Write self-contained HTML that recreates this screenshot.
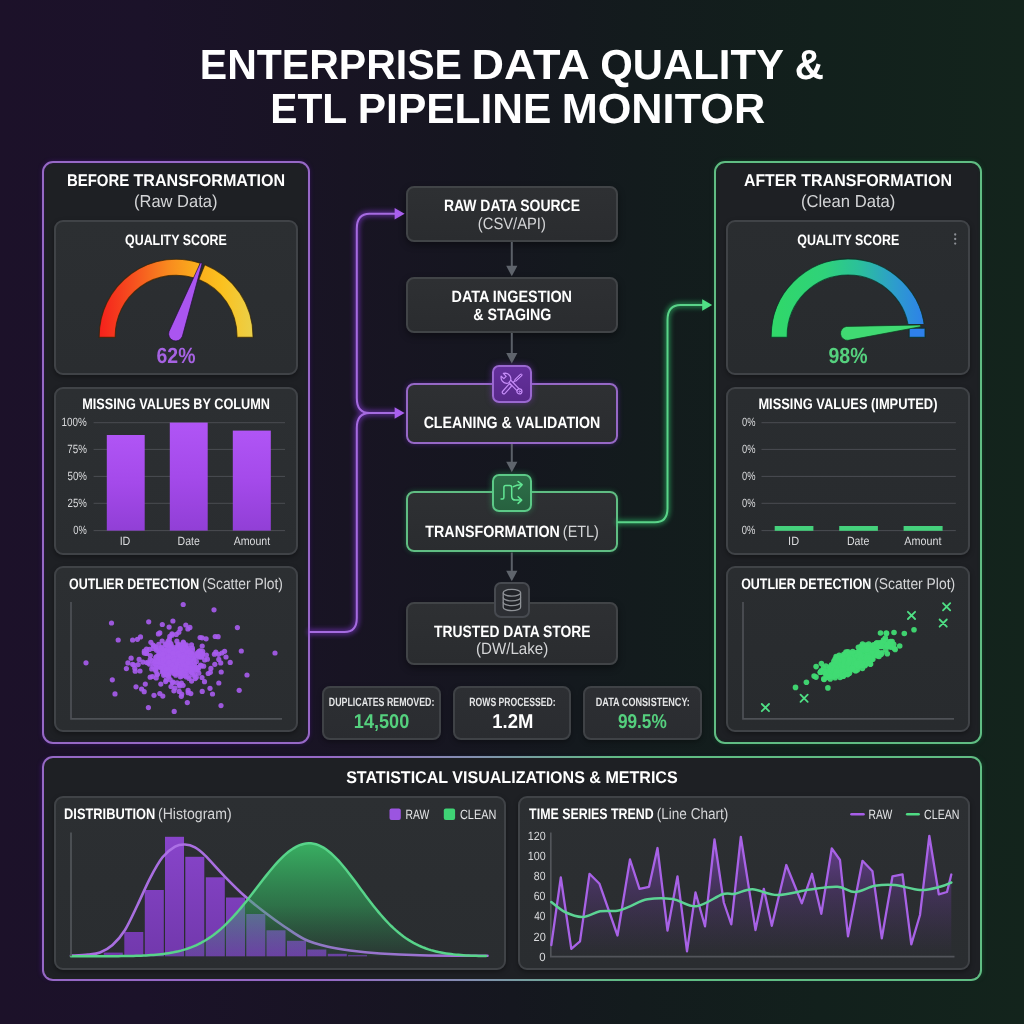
<!DOCTYPE html>
<html lang="en">
<head>
<meta charset="utf-8">
<title>Enterprise Data Quality &amp; ETL Pipeline Monitor</title>
<meta name="viewport" content="width=1024">
<style>
*{box-sizing:border-box;margin:0;padding:0}
html,body{width:1024px;height:1024px;overflow:hidden;background:#15161e}
body{font-family:"Liberation Sans",Arial,sans-serif;-webkit-font-smoothing:antialiased}
#app{position:relative;width:1024px;height:1024px;overflow:hidden;
 background:linear-gradient(90deg,#1c1129 0%,#1b1229 14%,#181423 34%,#15171f 50%,#131b1d 62%,#12201c 80%,#13241c 100%)}
.ov{position:absolute;left:0;top:0;pointer-events:none}
.labels{position:absolute;left:0;top:0;width:0;height:0}
.t{text-rendering:geometricPrecision;position:absolute;left:0;top:0;white-space:nowrap;line-height:1;font-weight:700;transform-origin:0 0;display:block}
.panel{position:absolute;border:2px solid #a164dc;border-radius:11px;background:#1e2024}
.panel.p{border-color:#9668c6;box-shadow:0 0 4px rgba(80,20,150,.45),inset 0 0 3px rgba(60,15,110,.4)}
.panel.g{border-color:#60bd83;box-shadow:0 0 4px rgba(15,90,45,.5),inset 0 0 3px rgba(8,60,30,.4)}
.panel.pg{border:0;background:linear-gradient(90deg,#9668c6 0%,#9668c6 30%,#8390b0 46%,#60bd83 62%,#60bd83 100%);padding:2px;
 box-shadow:-3px 0 4px -2px rgba(80,20,150,.45),3px 0 4px -2px rgba(15,90,45,.5)}
.panel.pg>.in{width:100%;height:100%;border-radius:9px;background:#1e2024}
.card{position:absolute;border:2px solid #404347;border-radius:9px;
 background:linear-gradient(180deg,#2c2f32 0%,#2a2d30 100%);box-shadow:0 2px 5px rgba(0,0,0,.35)}
.node{position:absolute;border:2px solid #414447;border-radius:8px;background:linear-gradient(180deg,#2e3033 0%,#2a2c2f 100%);box-shadow:0 3px 7px rgba(0,0,0,.4)}
.node.p{border:2px solid #9668c6;box-shadow:0 0 5px rgba(110,40,200,.45)}
.node.g{border:2px solid #60bd83;box-shadow:0 0 5px rgba(40,170,90,.4)}
.ico{position:absolute;border-radius:7px}
.ico.p{border:2px solid #9a68d0;background:linear-gradient(180deg,#64309c,#58298a);box-shadow:0 0 6px rgba(140,60,220,.5)}
.ico.g{border:2px solid #5cc987;background:linear-gradient(180deg,#2d6f49,#27613f);box-shadow:0 0 6px rgba(50,200,110,.45)}
.ico.n{border:2px solid #474a50;background:#2d2f34}
.stat{position:absolute;border:2px solid #3f4246;border-radius:8px;background:linear-gradient(180deg,#2d2f33,#2a2c30);box-shadow:0 2px 5px rgba(0,0,0,.35)}
.card.r{background:linear-gradient(180deg,#2a2d30 0%,#282b2e 100%)}

</style>
</head>
<body>
<main id="app">
<div class="panel p" style="left:41.80px;top:160.70px;width:268.30px;height:583.50px"></div>
<div class="panel g" style="left:713.80px;top:160.70px;width:268.70px;height:583.50px"></div>
<div class="panel pg" style="left:41.80px;top:756.20px;width:940.70px;height:225.20px"><div class="in"></div></div>
<div class="card" style="left:54.20px;top:220.00px;width:243.50px;height:155.40px"></div>
<div class="card r" style="left:726.20px;top:220.00px;width:243.60px;height:155.40px"></div>
<div class="card" style="left:54.20px;top:386.50px;width:243.50px;height:168.90px"></div>
<div class="card r" style="left:726.20px;top:386.50px;width:243.60px;height:168.90px"></div>
<div class="card" style="left:54.20px;top:566.00px;width:243.50px;height:166.40px"></div>
<div class="card r" style="left:726.20px;top:566.00px;width:243.60px;height:166.40px"></div>
<div class="card" style="left:54.20px;top:796.20px;width:451.50px;height:173.70px"></div>
<div class="card" style="left:518.00px;top:796.20px;width:451.80px;height:173.70px"></div>
<div class="node" style="left:406.40px;top:186.30px;width:211.20px;height:55.50px"></div>
<div class="node" style="left:406.40px;top:277.00px;width:211.20px;height:55.70px"></div>
<div class="node p" style="left:406.00px;top:382.70px;width:212.00px;height:61.10px"></div>
<div class="node g" style="left:406.00px;top:491.40px;width:212.00px;height:61.00px"></div>
<div class="node" style="left:406.40px;top:601.80px;width:211.20px;height:63.40px"></div>
<div class="ico p" style="left:492.40px;top:364.60px;width:39.50px;height:38.50px"></div>
<div class="ico g" style="left:492.40px;top:473.60px;width:39.50px;height:38.50px"></div>
<div class="ico n" style="left:494.00px;top:582.00px;width:36.00px;height:35.90px"></div>
<div class="stat" style="left:322.30px;top:685.80px;width:118.40px;height:54.70px"></div>
<div class="stat" style="left:452.80px;top:685.80px;width:118.40px;height:54.70px"></div>
<div class="stat" style="left:583.20px;top:685.80px;width:118.40px;height:54.70px"></div>
<svg class="ov" width="1024" height="1024" viewBox="0 0 1024 1024" aria-hidden="true">
<defs>
<filter id="glowP" x="-30%" y="-30%" width="160%" height="160%"><feGaussianBlur stdDeviation="2.6"/></filter>
<linearGradient id="gWarm" gradientUnits="userSpaceOnUse" x1="99" y1="0" x2="253" y2="0">
 <stop offset="0" stop-color="#f5201c"/><stop offset=".22" stop-color="#f6501f"/><stop offset=".45" stop-color="#f88a1f"/>
 <stop offset=".62" stop-color="#faab1c"/><stop offset=".80" stop-color="#fbc11f"/><stop offset="1" stop-color="#ead04a"/></linearGradient>
<linearGradient id="gCool" gradientUnits="userSpaceOnUse" x1="771" y1="0" x2="925" y2="0">
 <stop offset="0" stop-color="#30d868"/><stop offset=".35" stop-color="#2fd27a"/><stop offset=".58" stop-color="#2bbf9c"/>
 <stop offset=".80" stop-color="#2d9dcc"/><stop offset="1" stop-color="#2e80ea"/></linearGradient>
<clipPath id="cpCool"><path d="M760,250 H930 V324 H900 V345 H760 Z"/></clipPath>
<linearGradient id="gBar" x1="0" y1="0" x2="0" y2="1"><stop offset="0" stop-color="#b055f5"/><stop offset=".5" stop-color="#a44aea"/><stop offset="1" stop-color="#913fd6"/></linearGradient>
<linearGradient id="gHistG" gradientUnits="userSpaceOnUse" x1="0" y1="843" x2="0" y2="957">
 <stop offset="0" stop-color="#3ccf6e" stop-opacity=".80"/><stop offset=".55" stop-color="#31b560" stop-opacity=".50"/><stop offset="1" stop-color="#2a9452" stop-opacity=".10"/></linearGradient>
<linearGradient id="gHistP" gradientUnits="userSpaceOnUse" x1="0" y1="836" x2="0" y2="957">
 <stop offset="0" stop-color="#8e46d4"/><stop offset="1" stop-color="#7639b4"/></linearGradient>
<linearGradient id="gTS" gradientUnits="userSpaceOnUse" x1="0" y1="836" x2="0" y2="957">
 <stop offset="0" stop-color="#9a4fe0" stop-opacity=".58"/><stop offset=".45" stop-color="#8340c4" stop-opacity=".27"/><stop offset="1" stop-color="#6a30a0" stop-opacity="0"/></linearGradient>
</defs>
<g fill="none" stroke-linecap="round"><g filter="url(#glowP)" opacity=".6"><path d="M310,632 H344.5 Q356.8,632 356.8,618 V428 Q356.8,413 369.5,413 H396" stroke="#8a3be0" stroke-width="5"/><path d="M396,213.7 H369.5 Q356.8,213.7 356.8,228.7 V398 Q356.8,413 369.5,413" stroke="#8a3be0" stroke-width="5"/><path d="M618,522.2 H655 Q667.5,522.2 667.5,508.2 V320 Q667.5,305 680.5,305 H704" stroke="#2fc46c" stroke-width="5"/></g><path d="M310,632 H344.5 Q356.8,632 356.8,618 V428 Q356.8,413 369.5,413 H396" stroke="#a56be0" stroke-width="2"/><path d="M396,213.7 H369.5 Q356.8,213.7 356.8,228.7 V398 Q356.8,413 369.5,413" stroke="#a56be0" stroke-width="2"/><path d="M618,522.2 H655 Q667.5,522.2 667.5,508.2 V320 Q667.5,305 680.5,305 H704" stroke="#5ad389" stroke-width="2"/></g>
<path d="M394.6,207.9 L404.6,213.7 L394.6,219.5 Z" fill="#a95fee"/>
<path d="M394.6,407.2 L404.6,413 L394.6,418.8 Z" fill="#a95fee"/>
<path d="M702.2,299.2 L712.2,305 L702.2,310.8 Z" fill="#4fe085"/>
<path d="M511.8,242 V268.3" stroke="#5b6068" stroke-width="2" fill="none"/><path d="M506.2,265.8 H517.4 L511.8,276.3 Z" fill="#5f646c"/>
<path d="M511.8,333 V355.6" stroke="#5b6068" stroke-width="2" fill="none"/><path d="M506.2,353.1 H517.4 L511.8,363.6 Z" fill="#5f646c"/>
<path d="M511.8,444 V464.2" stroke="#5b6068" stroke-width="2" fill="none"/><path d="M506.2,461.7 H517.4 L511.8,472.2 Z" fill="#5f646c"/>
<path d="M511.8,552.5 V573.3" stroke="#5b6068" stroke-width="2" fill="none"/><path d="M506.2,570.8 H517.4 L511.8,581.3 Z" fill="#5f646c"/>
<g stroke="#33240a" stroke-opacity=".75" stroke-width="1.1"><path d="M99.20,337.40 L99.20,336.10 A76.9,76.9 0 0 1 200.37,263.13 L195.32,278.31 A60.9,60.9 0 0 0 115.20,336.10 L115.20,337.40 Z" fill="url(#gWarm)"/><path d="M204.78,264.75 A76.9,76.9 0 0 1 253.00,336.10 L253.00,337.40 L237.00,337.40 L237.00,336.10 A60.9,60.9 0 0 0 198.81,279.59 Z" fill="url(#gWarm)"/></g>
<path d="M182.38,336.31 L202.15,263.31 L200.45,262.69 L169.02,331.49 A7.1,7.1 0 0 0 182.38,336.31 Z" fill="#aa55f0" stroke="#241038" stroke-opacity=".7" stroke-width="1"/>
<g stroke="#0a3024" stroke-opacity=".75" stroke-width="1.1"><path d="M771.20,337.40 L771.20,336.10 A76.9,76.9 0 0 1 925.00,335.43 L909.00,335.57 A60.9,60.9 0 0 0 787.20,336.10 L787.20,337.40 Z" fill="url(#gCool)" clip-path="url(#cpCool)"/><path d="M909.2,328.3 H925 V337.4 H909.2 Z" fill="#2e80ea"/></g>
<path d="M848.02,340.36 L920.69,326.70 L920.51,324.90 L846.58,326.44 A7.0,7.0 0 0 0 848.02,340.36 Z" fill="#40da72" stroke="#0c3a20" stroke-opacity=".7" stroke-width="1"/>
<circle cx="955.2" cy="234.5" r="1.15" fill="#8d9096"/>
<circle cx="955.2" cy="239.0" r="1.15" fill="#8d9096"/>
<circle cx="955.2" cy="243.6" r="1.15" fill="#8d9096"/>
<path d="M93.6,422.7 H285" stroke="#4a4d52" stroke-width="1" fill="none"/>
<path d="M761.5,422.7 H955.8" stroke="#4a4d52" stroke-width="1" fill="none"/>
<path d="M93.6,449.4 H285" stroke="#4a4d52" stroke-width="1" fill="none"/>
<path d="M761.5,449.4 H955.8" stroke="#4a4d52" stroke-width="1" fill="none"/>
<path d="M93.6,476.4 H285" stroke="#4a4d52" stroke-width="1" fill="none"/>
<path d="M761.5,476.4 H955.8" stroke="#4a4d52" stroke-width="1" fill="none"/>
<path d="M93.6,503.3 H285" stroke="#4a4d52" stroke-width="1" fill="none"/>
<path d="M761.5,503.3 H955.8" stroke="#4a4d52" stroke-width="1" fill="none"/>
<path d="M93.6,530.6 H285" stroke="#4a4d52" stroke-width="1" fill="none"/>
<path d="M761.5,530.6 H955.8" stroke="#4a4d52" stroke-width="1" fill="none"/>
<rect x="106.8" y="435.0" width="37.9" height="95.6" fill="url(#gBar)"/>
<rect x="169.8" y="422.6" width="37.9" height="108.0" fill="url(#gBar)"/>
<rect x="232.8" y="430.6" width="38.0" height="100.0" fill="url(#gBar)"/>
<rect x="774.7" y="526.0" width="38.7" height="4.8" fill="#45d17c"/>
<rect x="839.2" y="526.0" width="38.7" height="4.8" fill="#45d17c"/>
<rect x="903.6" y="526.0" width="39.0" height="4.8" fill="#45d17c"/>
<path d="M71,602 V718.8 H282" stroke="#4e5156" stroke-width="1.7" fill="none"/>
<path d="M743,602 V718.8 H954" stroke="#4e5156" stroke-width="1.7" fill="none"/>
<g fill="#a95cf0" fill-opacity=".9"><circle cx="167.9" cy="644.4" r="2.6"/><circle cx="138.2" cy="664.6" r="2.6"/><circle cx="183.4" cy="642.8" r="2.6"/><circle cx="131.1" cy="658.2" r="2.6"/><circle cx="179.7" cy="686.0" r="2.6"/><circle cx="162.2" cy="672.1" r="2.6"/><circle cx="210.3" cy="672.3" r="2.6"/><circle cx="181.7" cy="694.0" r="2.6"/><circle cx="201.4" cy="665.8" r="2.6"/><circle cx="172.9" cy="621.0" r="2.6"/><circle cx="140.5" cy="636.9" r="2.6"/><circle cx="166.5" cy="674.7" r="2.6"/><circle cx="202.0" cy="677.5" r="2.6"/><circle cx="141.6" cy="689.0" r="2.6"/><circle cx="186.4" cy="644.8" r="2.6"/><circle cx="197.4" cy="653.4" r="2.6"/><circle cx="146.1" cy="653.1" r="2.6"/><circle cx="148.1" cy="662.8" r="2.6"/><circle cx="200.5" cy="665.0" r="2.6"/><circle cx="181.3" cy="696.3" r="2.6"/><circle cx="188.2" cy="692.7" r="2.6"/><circle cx="218.1" cy="636.7" r="2.6"/><circle cx="180.2" cy="628.7" r="2.6"/><circle cx="172.0" cy="633.8" r="2.6"/><circle cx="154.0" cy="663.3" r="2.6"/><circle cx="190.8" cy="693.6" r="2.6"/><circle cx="215.2" cy="636.5" r="2.6"/><circle cx="156.2" cy="677.9" r="2.6"/><circle cx="152.4" cy="676.5" r="2.6"/><circle cx="136.0" cy="686.8" r="2.6"/><circle cx="194.4" cy="669.5" r="2.6"/><circle cx="218.8" cy="659.4" r="2.6"/><circle cx="142.9" cy="662.1" r="2.6"/><circle cx="176.3" cy="634.4" r="2.6"/><circle cx="157.1" cy="649.0" r="2.6"/><circle cx="150.9" cy="642.3" r="2.6"/><circle cx="188.4" cy="676.5" r="2.6"/><circle cx="202.7" cy="651.3" r="2.6"/><circle cx="153.0" cy="648.5" r="2.6"/><circle cx="198.8" cy="673.2" r="2.6"/><circle cx="185.2" cy="645.9" r="2.6"/><circle cx="145.3" cy="684.1" r="2.6"/><circle cx="158.4" cy="633.9" r="2.6"/><circle cx="224.6" cy="651.3" r="2.6"/><circle cx="207.4" cy="659.2" r="2.6"/><circle cx="132.6" cy="640.0" r="2.6"/><circle cx="127.9" cy="662.9" r="2.6"/><circle cx="177.2" cy="682.8" r="2.6"/><circle cx="202.2" cy="691.4" r="2.6"/><circle cx="184.2" cy="645.6" r="2.6"/><circle cx="132.6" cy="664.3" r="2.6"/><circle cx="221.2" cy="672.0" r="2.6"/><circle cx="170.2" cy="679.7" r="2.6"/><circle cx="191.6" cy="681.1" r="2.6"/><circle cx="165.2" cy="674.6" r="2.6"/><circle cx="226.0" cy="657.0" r="2.6"/><circle cx="133.9" cy="665.0" r="2.6"/><circle cx="202.0" cy="655.9" r="2.6"/><circle cx="172.0" cy="635.2" r="2.6"/><circle cx="181.7" cy="676.1" r="2.6"/><circle cx="189.9" cy="627.4" r="2.6"/><circle cx="137.4" cy="639.3" r="2.6"/><circle cx="149.3" cy="649.4" r="2.6"/><circle cx="159.8" cy="693.6" r="2.6"/><circle cx="171.0" cy="686.5" r="2.6"/><circle cx="220.7" cy="662.9" r="2.6"/><circle cx="215.8" cy="652.2" r="2.6"/><circle cx="159.1" cy="652.1" r="2.6"/><circle cx="200.1" cy="637.5" r="2.6"/><circle cx="175.0" cy="688.1" r="2.6"/><circle cx="206.4" cy="655.0" r="2.6"/><circle cx="210.0" cy="688.3" r="2.6"/><circle cx="195.3" cy="670.0" r="2.6"/><circle cx="156.6" cy="665.9" r="2.6"/><circle cx="192.4" cy="648.0" r="2.6"/><circle cx="204.5" cy="681.7" r="2.6"/><circle cx="160.8" cy="684.1" r="2.6"/><circle cx="183.1" cy="685.3" r="2.6"/><circle cx="186.3" cy="677.0" r="2.6"/><circle cx="169.3" cy="639.4" r="2.6"/><circle cx="210.9" cy="668.4" r="2.6"/><circle cx="206.1" cy="638.8" r="2.6"/><circle cx="187.9" cy="629.0" r="2.6"/><circle cx="156.2" cy="664.3" r="2.6"/><circle cx="178.6" cy="644.7" r="2.6"/><circle cx="170.9" cy="643.5" r="2.6"/><circle cx="168.1" cy="642.5" r="2.6"/><circle cx="203.6" cy="666.2" r="2.6"/><circle cx="165.7" cy="681.6" r="2.6"/><circle cx="162.8" cy="696.1" r="2.6"/><circle cx="144.3" cy="653.1" r="2.6"/><circle cx="218.8" cy="683.0" r="2.6"/><circle cx="139.1" cy="659.4" r="2.6"/><circle cx="218.6" cy="654.3" r="2.6"/><circle cx="168.0" cy="641.3" r="2.6"/><circle cx="144.3" cy="651.2" r="2.6"/><circle cx="185.3" cy="646.0" r="2.6"/><circle cx="144.2" cy="691.7" r="2.6"/><circle cx="204.7" cy="659.9" r="2.6"/><circle cx="196.8" cy="668.5" r="2.6"/><circle cx="185.3" cy="645.9" r="2.6"/><circle cx="135.2" cy="671.2" r="2.6"/><circle cx="214.8" cy="664.3" r="2.6"/><circle cx="140.0" cy="671.0" r="2.6"/><circle cx="150.2" cy="677.2" r="2.6"/><circle cx="181.4" cy="683.2" r="2.6"/><circle cx="157.0" cy="667.2" r="2.6"/><circle cx="169.3" cy="642.4" r="2.6"/><circle cx="169.1" cy="627.1" r="2.6"/><circle cx="179.5" cy="684.7" r="2.6"/><circle cx="146.7" cy="662.6" r="2.6"/><circle cx="214.4" cy="654.2" r="2.6"/><circle cx="154.7" cy="662.9" r="2.6"/><circle cx="169.8" cy="636.4" r="2.6"/><circle cx="185.8" cy="625.0" r="2.6"/><circle cx="178.8" cy="632.3" r="2.6"/><circle cx="202.1" cy="637.8" r="2.6"/><circle cx="159.8" cy="632.9" r="2.6"/><circle cx="199.2" cy="651.2" r="2.6"/><circle cx="154.1" cy="646.1" r="2.6"/><circle cx="221.9" cy="653.0" r="2.6"/><circle cx="230.2" cy="662.4" r="2.6"/><circle cx="166.2" cy="679.9" r="2.6"/><circle cx="195.2" cy="678.6" r="2.6"/><circle cx="208.2" cy="673.5" r="2.6"/><circle cx="202.6" cy="653.7" r="2.6"/><circle cx="134.8" cy="668.3" r="2.6"/><circle cx="198.5" cy="656.2" r="2.6"/><circle cx="188.1" cy="690.4" r="2.6"/><circle cx="158.7" cy="644.4" r="2.6"/><circle cx="173.9" cy="690.8" r="2.6"/><circle cx="154.0" cy="695.3" r="2.6"/><circle cx="191.5" cy="644.8" r="2.6"/><circle cx="166.8" cy="644.9" r="2.6"/><circle cx="156.5" cy="650.2" r="2.6"/><circle cx="157.2" cy="674.5" r="2.6"/><circle cx="126.4" cy="668.6" r="2.6"/><circle cx="153.1" cy="645.0" r="2.6"/><circle cx="189.0" cy="678.5" r="2.6"/><circle cx="172.5" cy="682.8" r="2.6"/><circle cx="200.4" cy="656.4" r="2.6"/><circle cx="184.6" cy="646.1" r="2.6"/><circle cx="162.3" cy="624.5" r="2.6"/><circle cx="155.5" cy="660.7" r="2.6"/><circle cx="160.0" cy="650.9" r="2.6"/><circle cx="179.2" cy="691.4" r="2.6"/><circle cx="156.5" cy="656.5" r="2.6"/><circle cx="168.6" cy="676.2" r="2.6"/><circle cx="202.2" cy="646.1" r="2.6"/><circle cx="196.3" cy="677.2" r="2.6"/><circle cx="181.4" cy="647.9" r="2.6"/><circle cx="173.6" cy="660.4" r="2.6"/><circle cx="180.5" cy="667.6" r="2.6"/><circle cx="170.1" cy="659.2" r="2.6"/><circle cx="182.8" cy="647.7" r="2.6"/><circle cx="194.8" cy="654.0" r="2.6"/><circle cx="189.6" cy="661.8" r="2.6"/><circle cx="195.1" cy="668.3" r="2.6"/><circle cx="176.4" cy="648.7" r="2.6"/><circle cx="178.0" cy="663.1" r="2.6"/><circle cx="182.0" cy="651.8" r="2.6"/><circle cx="168.7" cy="655.2" r="2.6"/><circle cx="179.5" cy="654.6" r="2.6"/><circle cx="175.6" cy="667.5" r="2.6"/><circle cx="172.6" cy="670.5" r="2.6"/><circle cx="179.6" cy="659.0" r="2.6"/><circle cx="187.4" cy="664.4" r="2.6"/><circle cx="173.9" cy="656.6" r="2.6"/><circle cx="176.3" cy="663.3" r="2.6"/><circle cx="187.8" cy="662.7" r="2.6"/><circle cx="170.7" cy="651.3" r="2.6"/><circle cx="179.2" cy="663.6" r="2.6"/><circle cx="187.8" cy="657.0" r="2.6"/><circle cx="164.1" cy="666.8" r="2.6"/><circle cx="175.0" cy="652.1" r="2.6"/><circle cx="192.9" cy="667.2" r="2.6"/><circle cx="177.3" cy="662.8" r="2.6"/><circle cx="169.5" cy="667.9" r="2.6"/><circle cx="172.5" cy="657.6" r="2.6"/><circle cx="173.8" cy="652.7" r="2.6"/><circle cx="186.7" cy="672.8" r="2.6"/><circle cx="184.1" cy="646.1" r="2.6"/><circle cx="173.8" cy="656.2" r="2.6"/><circle cx="180.4" cy="645.5" r="2.6"/><circle cx="155.7" cy="657.5" r="2.6"/><circle cx="186.3" cy="659.5" r="2.6"/><circle cx="198.2" cy="654.8" r="2.6"/><circle cx="177.1" cy="659.8" r="2.6"/><circle cx="168.6" cy="668.8" r="2.6"/><circle cx="163.8" cy="653.3" r="2.6"/><circle cx="173.2" cy="657.4" r="2.6"/><circle cx="187.7" cy="657.0" r="2.6"/><circle cx="181.6" cy="657.5" r="2.6"/><circle cx="189.2" cy="660.7" r="2.6"/><circle cx="179.3" cy="649.1" r="2.6"/><circle cx="183.6" cy="656.2" r="2.6"/><circle cx="185.4" cy="664.5" r="2.6"/><circle cx="182.0" cy="668.9" r="2.6"/><circle cx="180.4" cy="654.5" r="2.6"/><circle cx="178.3" cy="662.0" r="2.6"/><circle cx="165.3" cy="665.2" r="2.6"/><circle cx="191.0" cy="662.6" r="2.6"/><circle cx="177.8" cy="664.1" r="2.6"/><circle cx="187.4" cy="657.0" r="2.6"/><circle cx="186.0" cy="655.5" r="2.6"/><circle cx="181.9" cy="664.5" r="2.6"/><circle cx="164.2" cy="665.5" r="2.6"/><circle cx="178.8" cy="648.9" r="2.6"/><circle cx="172.3" cy="656.3" r="2.6"/><circle cx="168.1" cy="663.8" r="2.6"/><circle cx="169.0" cy="661.2" r="2.6"/><circle cx="166.1" cy="658.9" r="2.6"/><circle cx="194.5" cy="663.8" r="2.6"/><circle cx="161.6" cy="654.1" r="2.6"/><circle cx="175.4" cy="649.2" r="2.6"/><circle cx="186.2" cy="660.5" r="2.6"/><circle cx="176.0" cy="661.2" r="2.6"/><circle cx="170.1" cy="652.6" r="2.6"/><circle cx="146.5" cy="649.2" r="2.6"/><circle cx="179.0" cy="665.7" r="2.6"/><circle cx="174.9" cy="647.7" r="2.6"/><circle cx="173.4" cy="661.1" r="2.6"/><circle cx="164.1" cy="670.6" r="2.6"/><circle cx="165.8" cy="660.8" r="2.6"/><circle cx="166.1" cy="667.3" r="2.6"/><circle cx="164.4" cy="654.4" r="2.6"/><circle cx="187.5" cy="651.8" r="2.6"/><circle cx="171.4" cy="664.7" r="2.6"/><circle cx="180.2" cy="648.3" r="2.6"/><circle cx="182.6" cy="658.7" r="2.6"/><circle cx="188.6" cy="648.4" r="2.6"/><circle cx="184.1" cy="663.7" r="2.6"/><circle cx="173.0" cy="657.8" r="2.6"/><circle cx="180.5" cy="655.9" r="2.6"/><circle cx="173.3" cy="655.3" r="2.6"/><circle cx="178.0" cy="665.6" r="2.6"/><circle cx="161.2" cy="661.0" r="2.6"/><circle cx="179.7" cy="671.5" r="2.6"/><circle cx="169.5" cy="669.8" r="2.6"/><circle cx="172.4" cy="664.3" r="2.6"/><circle cx="178.8" cy="662.7" r="2.6"/><circle cx="173.4" cy="653.8" r="2.6"/><circle cx="191.1" cy="671.2" r="2.6"/><circle cx="175.6" cy="659.6" r="2.6"/><circle cx="174.6" cy="651.2" r="2.6"/><circle cx="165.9" cy="663.7" r="2.6"/><circle cx="185.9" cy="659.2" r="2.6"/><circle cx="167.6" cy="653.1" r="2.6"/><circle cx="170.7" cy="665.8" r="2.6"/><circle cx="177.1" cy="650.6" r="2.6"/><circle cx="165.4" cy="663.1" r="2.6"/><circle cx="179.6" cy="673.3" r="2.6"/><circle cx="190.7" cy="662.1" r="2.6"/><circle cx="170.0" cy="662.2" r="2.6"/><circle cx="165.6" cy="655.9" r="2.6"/><circle cx="186.4" cy="665.1" r="2.6"/><circle cx="185.6" cy="671.9" r="2.6"/><circle cx="172.6" cy="666.5" r="2.6"/><circle cx="177.4" cy="663.0" r="2.6"/><circle cx="178.9" cy="664.6" r="2.6"/><circle cx="163.2" cy="651.0" r="2.6"/><circle cx="177.6" cy="664.2" r="2.6"/><circle cx="172.0" cy="660.0" r="2.6"/><circle cx="163.0" cy="667.6" r="2.6"/><circle cx="181.1" cy="671.5" r="2.6"/><circle cx="172.7" cy="660.1" r="2.6"/><circle cx="177.3" cy="670.5" r="2.6"/><circle cx="182.1" cy="663.6" r="2.6"/><circle cx="160.7" cy="654.6" r="2.6"/><circle cx="162.4" cy="659.4" r="2.6"/><circle cx="185.0" cy="661.1" r="2.6"/><circle cx="167.7" cy="675.3" r="2.6"/><circle cx="166.0" cy="670.6" r="2.6"/><circle cx="187.9" cy="662.6" r="2.6"/><circle cx="189.8" cy="653.0" r="2.6"/><circle cx="171.2" cy="658.6" r="2.6"/><circle cx="180.3" cy="659.5" r="2.6"/><circle cx="193.2" cy="658.1" r="2.6"/><circle cx="174.4" cy="652.1" r="2.6"/><circle cx="181.3" cy="666.4" r="2.6"/><circle cx="169.3" cy="651.8" r="2.6"/><circle cx="163.2" cy="669.1" r="2.6"/><circle cx="184.3" cy="662.8" r="2.6"/><circle cx="184.0" cy="664.2" r="2.6"/><circle cx="181.1" cy="649.2" r="2.6"/><circle cx="181.7" cy="665.8" r="2.6"/><circle cx="187.7" cy="667.7" r="2.6"/><circle cx="170.0" cy="662.6" r="2.6"/><circle cx="162.9" cy="671.0" r="2.6"/><circle cx="163.3" cy="665.8" r="2.6"/><circle cx="169.0" cy="654.9" r="2.6"/><circle cx="168.0" cy="658.4" r="2.6"/><circle cx="180.3" cy="668.8" r="2.6"/><circle cx="173.8" cy="666.9" r="2.6"/><circle cx="185.1" cy="675.5" r="2.6"/><circle cx="170.9" cy="663.0" r="2.6"/><circle cx="183.4" cy="661.8" r="2.6"/><circle cx="182.7" cy="656.0" r="2.6"/><circle cx="173.2" cy="656.3" r="2.6"/><circle cx="170.4" cy="654.4" r="2.6"/><circle cx="175.7" cy="652.0" r="2.6"/><circle cx="171.1" cy="664.9" r="2.6"/><circle cx="161.3" cy="653.2" r="2.6"/><circle cx="172.7" cy="653.1" r="2.6"/><circle cx="166.9" cy="674.2" r="2.6"/><circle cx="179.8" cy="657.5" r="2.6"/><circle cx="169.5" cy="649.6" r="2.6"/><circle cx="165.3" cy="644.2" r="2.6"/><circle cx="182.0" cy="657.1" r="2.6"/><circle cx="185.4" cy="660.7" r="2.6"/><circle cx="157.2" cy="674.3" r="2.6"/><circle cx="181.6" cy="667.1" r="2.6"/><circle cx="171.2" cy="656.7" r="2.6"/><circle cx="174.8" cy="673.5" r="2.6"/><circle cx="164.4" cy="653.1" r="2.6"/><circle cx="181.6" cy="646.7" r="2.6"/><circle cx="191.0" cy="652.5" r="2.6"/><circle cx="188.1" cy="659.7" r="2.6"/><circle cx="173.2" cy="652.5" r="2.6"/><circle cx="190.7" cy="658.8" r="2.6"/><circle cx="163.6" cy="665.3" r="2.6"/><circle cx="175.3" cy="664.4" r="2.6"/><circle cx="172.7" cy="663.4" r="2.6"/><circle cx="181.0" cy="660.9" r="2.6"/><circle cx="160.7" cy="664.3" r="2.6"/><circle cx="190.0" cy="663.9" r="2.6"/><circle cx="185.7" cy="666.3" r="2.6"/><circle cx="173.7" cy="668.3" r="2.6"/><circle cx="174.3" cy="653.6" r="2.6"/><circle cx="164.4" cy="668.1" r="2.6"/><circle cx="183.5" cy="665.2" r="2.6"/><circle cx="171.2" cy="647.8" r="2.6"/><circle cx="184.2" cy="660.1" r="2.6"/><circle cx="170.7" cy="656.4" r="2.6"/><circle cx="171.0" cy="647.5" r="2.6"/><circle cx="182.7" cy="665.8" r="2.6"/><circle cx="185.1" cy="658.2" r="2.6"/><circle cx="164.5" cy="651.0" r="2.6"/><circle cx="173.6" cy="673.2" r="2.6"/><circle cx="185.6" cy="660.9" r="2.6"/><circle cx="181.2" cy="666.5" r="2.6"/><circle cx="177.2" cy="662.4" r="2.6"/><circle cx="178.7" cy="656.6" r="2.6"/><circle cx="165.5" cy="656.7" r="2.6"/><circle cx="187.8" cy="649.5" r="2.6"/><circle cx="172.4" cy="657.8" r="2.6"/><circle cx="177.0" cy="657.5" r="2.6"/><circle cx="184.3" cy="658.1" r="2.6"/><circle cx="176.6" cy="665.8" r="2.6"/><circle cx="162.9" cy="668.5" r="2.6"/><circle cx="186.6" cy="651.4" r="2.6"/><circle cx="175.7" cy="655.5" r="2.6"/><circle cx="173.1" cy="666.3" r="2.6"/><circle cx="158.5" cy="666.8" r="2.6"/><circle cx="180.8" cy="660.7" r="2.6"/><circle cx="198.1" cy="657.2" r="2.6"/><circle cx="162.1" cy="663.5" r="2.6"/><circle cx="178.1" cy="656.3" r="2.6"/><circle cx="156.0" cy="647.3" r="2.6"/><circle cx="192.5" cy="650.0" r="2.6"/><circle cx="190.1" cy="666.6" r="2.6"/><circle cx="155.3" cy="662.1" r="2.6"/><circle cx="182.9" cy="668.7" r="2.6"/><circle cx="189.6" cy="669.7" r="2.6"/><circle cx="176.3" cy="659.0" r="2.6"/><circle cx="174.7" cy="664.5" r="2.6"/><circle cx="167.6" cy="653.2" r="2.6"/><circle cx="198.9" cy="667.6" r="2.6"/><circle cx="187.0" cy="659.1" r="2.6"/><circle cx="168.4" cy="657.7" r="2.6"/><circle cx="168.9" cy="656.3" r="2.6"/><circle cx="161.5" cy="665.2" r="2.6"/><circle cx="179.9" cy="666.4" r="2.6"/><circle cx="177.3" cy="655.7" r="2.6"/><circle cx="196.3" cy="667.4" r="2.6"/><circle cx="182.1" cy="667.0" r="2.6"/><circle cx="173.7" cy="666.0" r="2.6"/><circle cx="169.4" cy="668.0" r="2.6"/><circle cx="185.7" cy="666.7" r="2.6"/><circle cx="180.5" cy="661.7" r="2.6"/><circle cx="178.9" cy="665.9" r="2.6"/><circle cx="172.3" cy="665.8" r="2.6"/><circle cx="184.2" cy="651.8" r="2.6"/><circle cx="160.1" cy="662.9" r="2.6"/><circle cx="173.4" cy="655.0" r="2.6"/><circle cx="164.6" cy="652.9" r="2.6"/><circle cx="160.7" cy="658.2" r="2.6"/><circle cx="161.6" cy="648.6" r="2.6"/><circle cx="175.4" cy="671.5" r="2.6"/><circle cx="188.6" cy="659.5" r="2.6"/><circle cx="180.3" cy="659.0" r="2.6"/><circle cx="175.4" cy="655.2" r="2.6"/><circle cx="176.7" cy="653.2" r="2.6"/><circle cx="169.5" cy="659.6" r="2.6"/><circle cx="175.8" cy="675.2" r="2.6"/><circle cx="168.1" cy="652.9" r="2.6"/><circle cx="182.8" cy="664.8" r="2.6"/><circle cx="183.2" cy="659.8" r="2.6"/><circle cx="162.0" cy="658.2" r="2.6"/><circle cx="164.3" cy="660.2" r="2.6"/><circle cx="193.5" cy="658.5" r="2.6"/><circle cx="177.5" cy="668.4" r="2.6"/><circle cx="163.7" cy="666.1" r="2.6"/><circle cx="173.2" cy="655.8" r="2.6"/><circle cx="173.0" cy="653.6" r="2.6"/><circle cx="184.8" cy="661.4" r="2.6"/><circle cx="172.1" cy="664.1" r="2.6"/><circle cx="162.1" cy="641.0" r="2.6"/><circle cx="189.3" cy="656.6" r="2.6"/><circle cx="183.8" cy="654.3" r="2.6"/><circle cx="158.9" cy="652.9" r="2.6"/><circle cx="185.4" cy="663.3" r="2.6"/><circle cx="170.4" cy="665.5" r="2.6"/><circle cx="173.7" cy="661.9" r="2.6"/><circle cx="166.1" cy="644.5" r="2.6"/><circle cx="177.3" cy="665.4" r="2.6"/><circle cx="167.8" cy="671.9" r="2.6"/><circle cx="179.2" cy="673.0" r="2.6"/><circle cx="182.9" cy="669.4" r="2.6"/><circle cx="174.1" cy="650.2" r="2.6"/><circle cx="197.9" cy="669.9" r="2.6"/><circle cx="183.2" cy="654.1" r="2.6"/><circle cx="185.1" cy="653.3" r="2.6"/><circle cx="181.5" cy="667.1" r="2.6"/><circle cx="181.4" cy="653.5" r="2.6"/><circle cx="182.4" cy="661.9" r="2.6"/><circle cx="181.8" cy="669.6" r="2.6"/><circle cx="170.1" cy="654.6" r="2.6"/><circle cx="156.0" cy="671.3" r="2.6"/><circle cx="168.6" cy="669.8" r="2.6"/><circle cx="180.0" cy="669.1" r="2.6"/><circle cx="178.8" cy="664.0" r="2.6"/><circle cx="174.2" cy="663.8" r="2.6"/><circle cx="166.2" cy="667.9" r="2.6"/><circle cx="160.1" cy="656.9" r="2.6"/><circle cx="172.6" cy="661.2" r="2.6"/><circle cx="175.3" cy="653.6" r="2.6"/><circle cx="176.9" cy="641.2" r="2.6"/><circle cx="169.3" cy="660.0" r="2.6"/><circle cx="169.5" cy="667.4" r="2.6"/><circle cx="174.8" cy="663.8" r="2.6"/><circle cx="165.2" cy="667.1" r="2.6"/><circle cx="183.4" cy="649.6" r="2.6"/><circle cx="189.8" cy="652.2" r="2.6"/><circle cx="164.7" cy="666.3" r="2.6"/><circle cx="193.1" cy="665.1" r="2.6"/><circle cx="174.7" cy="655.3" r="2.6"/><circle cx="169.0" cy="661.8" r="2.6"/><circle cx="179.6" cy="653.5" r="2.6"/><circle cx="181.0" cy="644.8" r="2.6"/><circle cx="178.4" cy="653.9" r="2.6"/><circle cx="163.7" cy="675.3" r="2.6"/><circle cx="181.9" cy="658.2" r="2.6"/><circle cx="165.5" cy="670.5" r="2.6"/><circle cx="177.0" cy="654.9" r="2.6"/><circle cx="153.1" cy="666.9" r="2.6"/><circle cx="183.3" cy="663.9" r="2.6"/><circle cx="165.7" cy="647.3" r="2.6"/><circle cx="187.1" cy="658.1" r="2.6"/><circle cx="183.3" cy="642.1" r="2.6"/><circle cx="173.3" cy="665.3" r="2.6"/><circle cx="175.7" cy="673.4" r="2.6"/><circle cx="184.6" cy="667.8" r="2.6"/><circle cx="182.6" cy="658.7" r="2.6"/><circle cx="168.4" cy="654.4" r="2.6"/><circle cx="188.2" cy="659.0" r="2.6"/><circle cx="155.5" cy="661.7" r="2.6"/><circle cx="176.8" cy="656.8" r="2.6"/><circle cx="180.0" cy="653.9" r="2.6"/><circle cx="201.4" cy="657.2" r="2.6"/><circle cx="166.5" cy="661.1" r="2.6"/><circle cx="177.8" cy="666.5" r="2.6"/><circle cx="178.3" cy="665.0" r="2.6"/><circle cx="176.3" cy="658.5" r="2.6"/><circle cx="165.9" cy="655.1" r="2.6"/><circle cx="175.6" cy="651.5" r="2.6"/><circle cx="183.8" cy="658.2" r="2.6"/><circle cx="187.5" cy="666.1" r="2.6"/><circle cx="173.2" cy="682.1" r="2.6"/><circle cx="189.9" cy="655.6" r="2.6"/><circle cx="180.4" cy="656.1" r="2.6"/><circle cx="167.1" cy="661.5" r="2.6"/><circle cx="171.4" cy="666.6" r="2.6"/><circle cx="162.6" cy="662.3" r="2.6"/><circle cx="188.7" cy="662.2" r="2.6"/><circle cx="194.6" cy="674.4" r="2.6"/><circle cx="164.3" cy="657.7" r="2.6"/><circle cx="170.6" cy="671.1" r="2.6"/><circle cx="171.4" cy="645.5" r="2.6"/><circle cx="169.9" cy="658.0" r="2.6"/><circle cx="174.5" cy="659.1" r="2.6"/><circle cx="176.4" cy="654.6" r="2.6"/><circle cx="175.7" cy="657.0" r="2.6"/><circle cx="171.8" cy="658.3" r="2.6"/><circle cx="184.2" cy="662.1" r="2.6"/><circle cx="182.3" cy="655.0" r="2.6"/><circle cx="159.6" cy="659.0" r="2.6"/><circle cx="184.2" cy="660.0" r="2.6"/><circle cx="170.8" cy="649.0" r="2.6"/><circle cx="179.2" cy="654.4" r="2.6"/><circle cx="159.8" cy="662.8" r="2.6"/><circle cx="176.6" cy="669.1" r="2.6"/><circle cx="163.9" cy="650.3" r="2.6"/><circle cx="177.3" cy="671.4" r="2.6"/><circle cx="177.9" cy="664.9" r="2.6"/><circle cx="162.7" cy="662.3" r="2.6"/><circle cx="161.5" cy="647.3" r="2.6"/><circle cx="182.9" cy="668.4" r="2.6"/><circle cx="169.2" cy="661.5" r="2.6"/><circle cx="181.4" cy="658.8" r="2.6"/><circle cx="176.5" cy="662.9" r="2.6"/><circle cx="167.8" cy="652.5" r="2.6"/><circle cx="180.3" cy="676.8" r="2.6"/><circle cx="172.3" cy="657.2" r="2.6"/><circle cx="194.6" cy="655.7" r="2.6"/><circle cx="169.0" cy="674.1" r="2.6"/><circle cx="182.9" cy="665.7" r="2.6"/><circle cx="155.4" cy="669.6" r="2.6"/><circle cx="173.8" cy="667.6" r="2.6"/><circle cx="181.5" cy="673.6" r="2.6"/><circle cx="184.4" cy="673.6" r="2.6"/><circle cx="170.0" cy="668.5" r="2.6"/><circle cx="182.2" cy="656.8" r="2.6"/><circle cx="163.0" cy="659.0" r="2.6"/><circle cx="167.8" cy="657.3" r="2.6"/><circle cx="171.5" cy="655.8" r="2.6"/><circle cx="177.4" cy="661.6" r="2.6"/><circle cx="166.6" cy="655.0" r="2.6"/><circle cx="178.5" cy="656.8" r="2.6"/><circle cx="171.7" cy="653.8" r="2.6"/><circle cx="158.4" cy="658.7" r="2.6"/><circle cx="166.3" cy="659.9" r="2.6"/><circle cx="173.3" cy="657.6" r="2.6"/><circle cx="184.9" cy="654.6" r="2.6"/><circle cx="187.5" cy="663.0" r="2.6"/><circle cx="202.3" cy="654.1" r="2.6"/><circle cx="169.8" cy="663.3" r="2.6"/><circle cx="184.1" cy="658.5" r="2.6"/><circle cx="184.0" cy="661.4" r="2.6"/><circle cx="162.3" cy="662.8" r="2.6"/><circle cx="184.8" cy="663.5" r="2.6"/><circle cx="175.4" cy="654.2" r="2.6"/><circle cx="183.7" cy="670.9" r="2.6"/><circle cx="162.8" cy="665.1" r="2.6"/><circle cx="158.9" cy="662.1" r="2.6"/><circle cx="150.2" cy="659.3" r="2.6"/><circle cx="182.8" cy="650.2" r="2.6"/><circle cx="163.3" cy="661.4" r="2.6"/><circle cx="173.9" cy="662.8" r="2.6"/><circle cx="190.0" cy="652.1" r="2.6"/><circle cx="178.8" cy="646.6" r="2.6"/><circle cx="146.7" cy="653.5" r="2.6"/><circle cx="149.6" cy="664.2" r="2.6"/><circle cx="185.1" cy="664.2" r="2.6"/><circle cx="160.4" cy="655.1" r="2.6"/><circle cx="159.5" cy="659.1" r="2.6"/><circle cx="166.4" cy="668.5" r="2.6"/><circle cx="180.5" cy="651.5" r="2.6"/><circle cx="190.9" cy="662.2" r="2.6"/><circle cx="185.0" cy="660.8" r="2.6"/><circle cx="189.2" cy="668.9" r="2.6"/><circle cx="184.4" cy="670.8" r="2.6"/><circle cx="182.7" cy="663.0" r="2.6"/><circle cx="169.2" cy="645.4" r="2.6"/><circle cx="188.9" cy="665.1" r="2.6"/><circle cx="165.8" cy="666.8" r="2.6"/><circle cx="178.3" cy="661.4" r="2.6"/><circle cx="194.9" cy="668.0" r="2.6"/><circle cx="163.2" cy="661.4" r="2.6"/><circle cx="186.7" cy="668.9" r="2.6"/><circle cx="182.0" cy="658.0" r="2.6"/><circle cx="180.3" cy="647.1" r="2.6"/><circle cx="189.3" cy="660.3" r="2.6"/><circle cx="171.2" cy="655.6" r="2.6"/><circle cx="178.3" cy="654.7" r="2.6"/><circle cx="166.9" cy="653.7" r="2.6"/><circle cx="193.9" cy="660.0" r="2.6"/><circle cx="181.7" cy="663.3" r="2.6"/><circle cx="170.6" cy="666.5" r="2.6"/><circle cx="175.1" cy="655.3" r="2.6"/><circle cx="166.7" cy="657.9" r="2.6"/><circle cx="171.9" cy="670.5" r="2.6"/><circle cx="151.7" cy="668.9" r="2.6"/><circle cx="191.1" cy="672.0" r="2.6"/><circle cx="169.6" cy="654.7" r="2.6"/><circle cx="189.2" cy="665.7" r="2.6"/><circle cx="179.7" cy="654.5" r="2.6"/><circle cx="173.9" cy="652.2" r="2.6"/><circle cx="193.1" cy="668.5" r="2.6"/><circle cx="172.5" cy="668.4" r="2.6"/><circle cx="178.1" cy="646.1" r="2.6"/><circle cx="182.4" cy="655.3" r="2.6"/><circle cx="179.9" cy="657.4" r="2.6"/><circle cx="166.8" cy="658.4" r="2.6"/><circle cx="187.2" cy="652.2" r="2.6"/><circle cx="167.0" cy="649.7" r="2.6"/><circle cx="170.6" cy="667.2" r="2.6"/><circle cx="184.0" cy="664.8" r="2.6"/><circle cx="181.7" cy="671.9" r="2.6"/><circle cx="191.7" cy="672.4" r="2.6"/><circle cx="168.1" cy="656.2" r="2.6"/><circle cx="184.5" cy="666.1" r="2.6"/><circle cx="171.7" cy="659.2" r="2.6"/><circle cx="185.9" cy="659.8" r="2.6"/><circle cx="169.3" cy="663.2" r="2.6"/><circle cx="171.2" cy="664.9" r="2.6"/><circle cx="179.0" cy="658.6" r="2.6"/><circle cx="168.0" cy="668.1" r="2.6"/><circle cx="168.1" cy="661.6" r="2.6"/><circle cx="173.2" cy="661.1" r="2.6"/><circle cx="173.0" cy="668.0" r="2.6"/><circle cx="177.8" cy="653.2" r="2.6"/><circle cx="164.4" cy="666.1" r="2.6"/><circle cx="174.6" cy="669.8" r="2.6"/><circle cx="181.3" cy="670.2" r="2.6"/><circle cx="162.8" cy="658.3" r="2.6"/><circle cx="189.0" cy="651.7" r="2.6"/><circle cx="183.8" cy="660.4" r="2.6"/><circle cx="186.9" cy="658.6" r="2.6"/><circle cx="169.5" cy="666.7" r="2.6"/><circle cx="198.1" cy="652.3" r="2.6"/><circle cx="179.5" cy="655.1" r="2.6"/><circle cx="181.6" cy="664.1" r="2.6"/><circle cx="169.5" cy="650.9" r="2.6"/><circle cx="177.5" cy="661.0" r="2.6"/><circle cx="185.6" cy="660.6" r="2.6"/><circle cx="187.3" cy="662.9" r="2.6"/><circle cx="191.4" cy="668.4" r="2.6"/><circle cx="163.4" cy="659.0" r="2.6"/><circle cx="181.2" cy="659.2" r="2.6"/><circle cx="180.4" cy="673.2" r="2.6"/><circle cx="168.5" cy="656.0" r="2.6"/><circle cx="168.3" cy="668.7" r="2.6"/><circle cx="199.2" cy="654.8" r="2.6"/><circle cx="200.3" cy="650.9" r="2.6"/><circle cx="178.3" cy="662.1" r="2.6"/><circle cx="180.2" cy="656.0" r="2.6"/><circle cx="165.8" cy="659.7" r="2.6"/><circle cx="187.2" cy="659.5" r="2.6"/><circle cx="181.1" cy="664.4" r="2.6"/><circle cx="191.5" cy="653.3" r="2.6"/><circle cx="192.8" cy="675.1" r="2.6"/><circle cx="165.8" cy="669.2" r="2.6"/><circle cx="158.9" cy="655.2" r="2.6"/><circle cx="174.3" cy="660.9" r="2.6"/><circle cx="158.8" cy="655.8" r="2.6"/><circle cx="161.2" cy="668.0" r="2.6"/><circle cx="168.0" cy="663.0" r="2.6"/><circle cx="172.2" cy="664.8" r="2.6"/><circle cx="151.9" cy="660.7" r="2.6"/><circle cx="162.6" cy="654.2" r="2.6"/><circle cx="180.7" cy="667.0" r="2.6"/><circle cx="168.3" cy="657.4" r="2.6"/><circle cx="196.4" cy="661.6" r="2.6"/><circle cx="186.6" cy="668.5" r="2.6"/><circle cx="184.7" cy="660.1" r="2.6"/><circle cx="175.6" cy="667.2" r="2.6"/><circle cx="150.3" cy="655.5" r="2.6"/><circle cx="181.2" cy="665.1" r="2.6"/><circle cx="183.0" cy="657.3" r="2.6"/><circle cx="168.9" cy="650.8" r="2.6"/><circle cx="179.0" cy="660.8" r="2.6"/><circle cx="177.9" cy="644.7" r="2.6"/><circle cx="173.0" cy="653.2" r="2.6"/><circle cx="186.4" cy="666.0" r="2.6"/><circle cx="183.4" cy="664.9" r="2.6"/><circle cx="188.2" cy="662.7" r="2.6"/><circle cx="168.8" cy="662.0" r="2.6"/><circle cx="177.3" cy="663.4" r="2.6"/><circle cx="181.7" cy="661.5" r="2.6"/><circle cx="86.0" cy="662.8" r="2.6"/><circle cx="275.0" cy="653.0" r="2.6"/><circle cx="183.2" cy="604.5" r="2.6"/><circle cx="214.0" cy="609.8" r="2.6"/><circle cx="111.5" cy="623.0" r="2.6"/><circle cx="148.7" cy="621.8" r="2.6"/><circle cx="237.4" cy="627.6" r="2.6"/><circle cx="118.2" cy="640.0" r="2.6"/><circle cx="241.3" cy="651.0" r="2.6"/><circle cx="247.0" cy="675.0" r="2.6"/><circle cx="239.2" cy="690.3" r="2.6"/><circle cx="221.0" cy="705.6" r="2.6"/><circle cx="174.2" cy="711.4" r="2.6"/><circle cx="148.4" cy="707.6" r="2.6"/><circle cx="115.0" cy="693.9" r="2.6"/><circle cx="112.3" cy="679.8" r="2.6"/><circle cx="187.3" cy="702.6" r="2.6"/><circle cx="212.5" cy="694.0" r="2.6"/></g>
<g fill="#40db73" fill-opacity=".95"><circle cx="834.8" cy="671.7" r="2.8"/><circle cx="867.9" cy="650.9" r="2.8"/><circle cx="832.3" cy="670.6" r="2.8"/><circle cx="863.0" cy="661.6" r="2.8"/><circle cx="831.6" cy="664.7" r="2.8"/><circle cx="865.4" cy="657.2" r="2.8"/><circle cx="879.4" cy="653.0" r="2.8"/><circle cx="851.1" cy="660.3" r="2.8"/><circle cx="838.7" cy="662.0" r="2.8"/><circle cx="855.1" cy="660.6" r="2.8"/><circle cx="847.8" cy="663.1" r="2.8"/><circle cx="859.0" cy="661.5" r="2.8"/><circle cx="871.0" cy="653.2" r="2.8"/><circle cx="826.6" cy="677.3" r="2.8"/><circle cx="830.6" cy="670.9" r="2.8"/><circle cx="830.1" cy="672.0" r="2.8"/><circle cx="841.5" cy="667.6" r="2.8"/><circle cx="863.9" cy="648.8" r="2.8"/><circle cx="850.1" cy="665.6" r="2.8"/><circle cx="852.6" cy="662.9" r="2.8"/><circle cx="852.9" cy="655.7" r="2.8"/><circle cx="860.5" cy="653.0" r="2.8"/><circle cx="881.7" cy="644.3" r="2.8"/><circle cx="864.1" cy="655.4" r="2.8"/><circle cx="867.1" cy="650.9" r="2.8"/><circle cx="868.8" cy="652.5" r="2.8"/><circle cx="874.4" cy="653.6" r="2.8"/><circle cx="853.9" cy="656.4" r="2.8"/><circle cx="866.3" cy="656.7" r="2.8"/><circle cx="878.4" cy="646.5" r="2.8"/><circle cx="863.1" cy="658.5" r="2.8"/><circle cx="858.2" cy="659.4" r="2.8"/><circle cx="855.0" cy="656.8" r="2.8"/><circle cx="836.5" cy="666.8" r="2.8"/><circle cx="865.6" cy="662.4" r="2.8"/><circle cx="870.8" cy="657.6" r="2.8"/><circle cx="866.9" cy="657.6" r="2.8"/><circle cx="857.7" cy="662.5" r="2.8"/><circle cx="880.5" cy="645.7" r="2.8"/><circle cx="846.3" cy="674.1" r="2.8"/><circle cx="859.1" cy="662.8" r="2.8"/><circle cx="864.8" cy="649.3" r="2.8"/><circle cx="895.2" cy="649.4" r="2.8"/><circle cx="857.6" cy="662.5" r="2.8"/><circle cx="853.5" cy="656.1" r="2.8"/><circle cx="852.3" cy="663.1" r="2.8"/><circle cx="872.3" cy="655.1" r="2.8"/><circle cx="857.0" cy="665.8" r="2.8"/><circle cx="842.9" cy="669.8" r="2.8"/><circle cx="870.2" cy="651.0" r="2.8"/><circle cx="823.3" cy="670.7" r="2.8"/><circle cx="858.1" cy="661.1" r="2.8"/><circle cx="875.6" cy="644.7" r="2.8"/><circle cx="854.6" cy="663.4" r="2.8"/><circle cx="846.0" cy="652.1" r="2.8"/><circle cx="870.6" cy="664.1" r="2.8"/><circle cx="867.2" cy="649.2" r="2.8"/><circle cx="847.3" cy="664.8" r="2.8"/><circle cx="893.7" cy="644.2" r="2.8"/><circle cx="858.2" cy="666.3" r="2.8"/><circle cx="855.8" cy="669.0" r="2.8"/><circle cx="841.6" cy="664.0" r="2.8"/><circle cx="867.5" cy="661.1" r="2.8"/><circle cx="864.2" cy="656.9" r="2.8"/><circle cx="823.2" cy="671.7" r="2.8"/><circle cx="842.6" cy="663.2" r="2.8"/><circle cx="861.8" cy="654.8" r="2.8"/><circle cx="865.9" cy="655.0" r="2.8"/><circle cx="848.3" cy="663.7" r="2.8"/><circle cx="861.8" cy="661.0" r="2.8"/><circle cx="845.3" cy="663.4" r="2.8"/><circle cx="835.1" cy="677.8" r="2.8"/><circle cx="875.8" cy="648.8" r="2.8"/><circle cx="843.3" cy="659.3" r="2.8"/><circle cx="856.4" cy="660.2" r="2.8"/><circle cx="888.1" cy="645.0" r="2.8"/><circle cx="836.1" cy="656.6" r="2.8"/><circle cx="875.8" cy="650.7" r="2.8"/><circle cx="828.4" cy="673.8" r="2.8"/><circle cx="872.1" cy="654.5" r="2.8"/><circle cx="846.2" cy="653.2" r="2.8"/><circle cx="848.2" cy="655.2" r="2.8"/><circle cx="858.4" cy="647.3" r="2.8"/><circle cx="841.5" cy="672.7" r="2.8"/><circle cx="876.8" cy="643.2" r="2.8"/><circle cx="830.9" cy="676.1" r="2.8"/><circle cx="864.7" cy="650.1" r="2.8"/><circle cx="841.0" cy="663.2" r="2.8"/><circle cx="833.2" cy="667.0" r="2.8"/><circle cx="874.4" cy="654.0" r="2.8"/><circle cx="885.5" cy="644.6" r="2.8"/><circle cx="849.2" cy="657.7" r="2.8"/><circle cx="848.7" cy="656.2" r="2.8"/><circle cx="826.7" cy="677.2" r="2.8"/><circle cx="877.6" cy="653.1" r="2.8"/><circle cx="874.8" cy="651.5" r="2.8"/><circle cx="842.2" cy="666.6" r="2.8"/><circle cx="845.2" cy="659.0" r="2.8"/><circle cx="823.7" cy="667.6" r="2.8"/><circle cx="853.5" cy="661.4" r="2.8"/><circle cx="848.7" cy="670.2" r="2.8"/><circle cx="857.3" cy="661.7" r="2.8"/><circle cx="870.8" cy="648.0" r="2.8"/><circle cx="823.8" cy="678.9" r="2.8"/><circle cx="845.1" cy="671.4" r="2.8"/><circle cx="860.6" cy="662.3" r="2.8"/><circle cx="861.1" cy="646.2" r="2.8"/><circle cx="863.3" cy="652.4" r="2.8"/><circle cx="840.5" cy="664.7" r="2.8"/><circle cx="867.2" cy="658.5" r="2.8"/><circle cx="865.9" cy="646.1" r="2.8"/><circle cx="839.2" cy="655.4" r="2.8"/><circle cx="852.9" cy="664.0" r="2.8"/><circle cx="841.8" cy="667.6" r="2.8"/><circle cx="859.0" cy="663.1" r="2.8"/><circle cx="838.7" cy="663.6" r="2.8"/><circle cx="844.8" cy="673.8" r="2.8"/><circle cx="870.2" cy="651.8" r="2.8"/><circle cx="857.1" cy="659.4" r="2.8"/><circle cx="856.1" cy="658.3" r="2.8"/><circle cx="845.5" cy="658.1" r="2.8"/><circle cx="846.5" cy="672.4" r="2.8"/><circle cx="861.9" cy="656.9" r="2.8"/><circle cx="850.0" cy="662.6" r="2.8"/><circle cx="857.6" cy="655.3" r="2.8"/><circle cx="856.9" cy="660.2" r="2.8"/><circle cx="839.9" cy="663.2" r="2.8"/><circle cx="835.4" cy="664.0" r="2.8"/><circle cx="862.5" cy="644.1" r="2.8"/><circle cx="847.9" cy="660.2" r="2.8"/><circle cx="843.7" cy="665.9" r="2.8"/><circle cx="871.2" cy="652.4" r="2.8"/><circle cx="849.9" cy="659.2" r="2.8"/><circle cx="853.1" cy="665.5" r="2.8"/><circle cx="844.8" cy="659.0" r="2.8"/><circle cx="831.2" cy="665.8" r="2.8"/><circle cx="833.7" cy="675.9" r="2.8"/><circle cx="858.4" cy="657.0" r="2.8"/><circle cx="874.9" cy="646.8" r="2.8"/><circle cx="866.8" cy="658.2" r="2.8"/><circle cx="825.8" cy="666.1" r="2.8"/><circle cx="840.5" cy="671.6" r="2.8"/><circle cx="871.2" cy="645.7" r="2.8"/><circle cx="869.0" cy="651.1" r="2.8"/><circle cx="846.0" cy="661.4" r="2.8"/><circle cx="844.5" cy="655.7" r="2.8"/><circle cx="835.1" cy="663.3" r="2.8"/><circle cx="865.2" cy="665.6" r="2.8"/><circle cx="825.4" cy="672.2" r="2.8"/><circle cx="842.5" cy="676.1" r="2.8"/><circle cx="860.8" cy="653.3" r="2.8"/><circle cx="869.1" cy="655.7" r="2.8"/><circle cx="826.7" cy="671.0" r="2.8"/><circle cx="849.6" cy="662.6" r="2.8"/><circle cx="854.7" cy="658.3" r="2.8"/><circle cx="855.1" cy="656.8" r="2.8"/><circle cx="842.3" cy="673.8" r="2.8"/><circle cx="859.9" cy="659.7" r="2.8"/><circle cx="827.9" cy="672.2" r="2.8"/><circle cx="863.6" cy="649.1" r="2.8"/><circle cx="869.8" cy="650.7" r="2.8"/><circle cx="859.4" cy="657.1" r="2.8"/><circle cx="859.2" cy="664.0" r="2.8"/><circle cx="850.1" cy="670.3" r="2.8"/><circle cx="839.1" cy="662.8" r="2.8"/><circle cx="862.3" cy="650.8" r="2.8"/><circle cx="849.3" cy="667.3" r="2.8"/><circle cx="868.8" cy="644.1" r="2.8"/><circle cx="865.1" cy="664.6" r="2.8"/><circle cx="871.6" cy="650.5" r="2.8"/><circle cx="843.3" cy="664.1" r="2.8"/><circle cx="834.6" cy="668.5" r="2.8"/><circle cx="850.1" cy="661.5" r="2.8"/><circle cx="871.4" cy="650.7" r="2.8"/><circle cx="832.5" cy="676.2" r="2.8"/><circle cx="835.5" cy="667.1" r="2.8"/><circle cx="850.5" cy="660.3" r="2.8"/><circle cx="837.0" cy="667.4" r="2.8"/><circle cx="886.4" cy="641.4" r="2.8"/><circle cx="853.4" cy="666.4" r="2.8"/><circle cx="866.6" cy="658.1" r="2.8"/><circle cx="862.9" cy="645.9" r="2.8"/><circle cx="840.0" cy="667.9" r="2.8"/><circle cx="863.8" cy="662.2" r="2.8"/><circle cx="860.2" cy="656.1" r="2.8"/><circle cx="853.5" cy="659.5" r="2.8"/><circle cx="858.5" cy="661.6" r="2.8"/><circle cx="846.3" cy="659.9" r="2.8"/><circle cx="842.1" cy="671.8" r="2.8"/><circle cx="875.4" cy="655.0" r="2.8"/><circle cx="868.5" cy="657.6" r="2.8"/><circle cx="854.6" cy="663.5" r="2.8"/><circle cx="836.3" cy="667.9" r="2.8"/><circle cx="843.2" cy="669.3" r="2.8"/><circle cx="844.0" cy="664.7" r="2.8"/><circle cx="862.3" cy="663.2" r="2.8"/><circle cx="839.0" cy="662.9" r="2.8"/><circle cx="863.9" cy="649.9" r="2.8"/><circle cx="859.3" cy="654.9" r="2.8"/><circle cx="848.0" cy="654.0" r="2.8"/><circle cx="863.5" cy="653.2" r="2.8"/><circle cx="843.4" cy="676.2" r="2.8"/><circle cx="859.0" cy="656.1" r="2.8"/><circle cx="858.2" cy="666.5" r="2.8"/><circle cx="853.8" cy="662.8" r="2.8"/><circle cx="859.6" cy="653.0" r="2.8"/><circle cx="854.3" cy="657.6" r="2.8"/><circle cx="835.5" cy="673.9" r="2.8"/><circle cx="863.9" cy="655.9" r="2.8"/><circle cx="835.0" cy="659.4" r="2.8"/><circle cx="860.7" cy="656.6" r="2.8"/><circle cx="826.7" cy="673.4" r="2.8"/><circle cx="829.3" cy="672.3" r="2.8"/><circle cx="856.3" cy="661.1" r="2.8"/><circle cx="857.1" cy="659.7" r="2.8"/><circle cx="834.6" cy="667.9" r="2.8"/><circle cx="844.8" cy="663.6" r="2.8"/><circle cx="858.8" cy="661.2" r="2.8"/><circle cx="859.2" cy="656.8" r="2.8"/><circle cx="891.0" cy="647.1" r="2.8"/><circle cx="828.1" cy="675.0" r="2.8"/><circle cx="847.1" cy="668.8" r="2.8"/><circle cx="836.5" cy="668.4" r="2.8"/><circle cx="851.0" cy="661.3" r="2.8"/><circle cx="840.4" cy="657.6" r="2.8"/><circle cx="862.6" cy="661.3" r="2.8"/><circle cx="850.2" cy="657.0" r="2.8"/><circle cx="857.6" cy="661.5" r="2.8"/><circle cx="850.5" cy="662.0" r="2.8"/><circle cx="873.2" cy="645.3" r="2.8"/><circle cx="840.7" cy="657.1" r="2.8"/><circle cx="840.8" cy="663.0" r="2.8"/><circle cx="836.8" cy="665.2" r="2.8"/><circle cx="881.2" cy="646.1" r="2.8"/><circle cx="855.9" cy="670.7" r="2.8"/><circle cx="848.8" cy="654.0" r="2.8"/><circle cx="857.7" cy="653.7" r="2.8"/><circle cx="876.6" cy="643.0" r="2.8"/><circle cx="840.9" cy="658.5" r="2.8"/><circle cx="852.8" cy="655.8" r="2.8"/><circle cx="851.5" cy="659.6" r="2.8"/><circle cx="845.6" cy="669.3" r="2.8"/><circle cx="868.1" cy="653.8" r="2.8"/><circle cx="837.0" cy="663.2" r="2.8"/><circle cx="862.4" cy="668.5" r="2.8"/><circle cx="844.5" cy="661.0" r="2.8"/><circle cx="840.1" cy="661.5" r="2.8"/><circle cx="837.6" cy="667.3" r="2.8"/><circle cx="875.9" cy="649.7" r="2.8"/><circle cx="842.0" cy="657.9" r="2.8"/><circle cx="856.6" cy="659.0" r="2.8"/><circle cx="831.8" cy="665.6" r="2.8"/><circle cx="854.7" cy="665.2" r="2.8"/><circle cx="863.6" cy="656.7" r="2.8"/><circle cx="848.9" cy="664.5" r="2.8"/><circle cx="857.5" cy="669.8" r="2.8"/><circle cx="834.7" cy="667.9" r="2.8"/><circle cx="872.7" cy="649.9" r="2.8"/><circle cx="875.6" cy="649.6" r="2.8"/><circle cx="854.8" cy="658.1" r="2.8"/><circle cx="829.6" cy="667.3" r="2.8"/><circle cx="889.4" cy="646.4" r="2.8"/><circle cx="864.8" cy="660.0" r="2.8"/><circle cx="864.3" cy="660.6" r="2.8"/><circle cx="848.7" cy="661.8" r="2.8"/><circle cx="868.1" cy="651.7" r="2.8"/><circle cx="831.9" cy="670.0" r="2.8"/><circle cx="846.0" cy="667.4" r="2.8"/><circle cx="839.8" cy="661.8" r="2.8"/><circle cx="851.2" cy="669.7" r="2.8"/><circle cx="852.9" cy="661.7" r="2.8"/><circle cx="854.0" cy="661.9" r="2.8"/><circle cx="870.7" cy="659.3" r="2.8"/><circle cx="830.2" cy="678.9" r="2.8"/><circle cx="852.6" cy="659.4" r="2.8"/><circle cx="890.7" cy="641.6" r="2.8"/><circle cx="885.8" cy="649.8" r="2.8"/><circle cx="838.1" cy="670.6" r="2.8"/><circle cx="864.6" cy="654.5" r="2.8"/><circle cx="816.0" cy="677.1" r="2.8"/><circle cx="848.1" cy="657.6" r="2.8"/><circle cx="881.5" cy="645.7" r="2.8"/><circle cx="846.5" cy="662.5" r="2.8"/><circle cx="839.4" cy="663.5" r="2.8"/><circle cx="855.4" cy="661.3" r="2.8"/><circle cx="845.1" cy="664.2" r="2.8"/><circle cx="832.5" cy="673.5" r="2.8"/><circle cx="841.9" cy="667.3" r="2.8"/><circle cx="838.0" cy="665.5" r="2.8"/><circle cx="854.2" cy="654.0" r="2.8"/><circle cx="892.1" cy="641.6" r="2.8"/><circle cx="850.7" cy="658.2" r="2.8"/><circle cx="881.2" cy="654.2" r="2.8"/><circle cx="855.3" cy="652.7" r="2.8"/><circle cx="846.6" cy="667.1" r="2.8"/><circle cx="842.9" cy="659.7" r="2.8"/><circle cx="833.1" cy="666.6" r="2.8"/><circle cx="852.2" cy="657.9" r="2.8"/><circle cx="879.1" cy="642.8" r="2.8"/><circle cx="858.9" cy="658.4" r="2.8"/><circle cx="853.2" cy="666.1" r="2.8"/><circle cx="847.4" cy="661.9" r="2.8"/><circle cx="847.2" cy="663.2" r="2.8"/><circle cx="875.1" cy="654.0" r="2.8"/><circle cx="831.3" cy="669.2" r="2.8"/><circle cx="842.4" cy="670.2" r="2.8"/><circle cx="858.6" cy="662.7" r="2.8"/><circle cx="848.5" cy="653.3" r="2.8"/><circle cx="860.9" cy="658.2" r="2.8"/><circle cx="858.7" cy="651.4" r="2.8"/><circle cx="853.2" cy="657.2" r="2.8"/><circle cx="843.2" cy="667.4" r="2.8"/><circle cx="857.0" cy="654.3" r="2.8"/><circle cx="821.4" cy="663.6" r="2.8"/><circle cx="846.5" cy="669.8" r="2.8"/><circle cx="847.9" cy="651.8" r="2.8"/><circle cx="840.6" cy="669.1" r="2.8"/><circle cx="882.0" cy="652.7" r="2.8"/><circle cx="859.5" cy="658.7" r="2.8"/><circle cx="835.7" cy="667.0" r="2.8"/><circle cx="846.5" cy="660.1" r="2.8"/><circle cx="853.5" cy="658.6" r="2.8"/><circle cx="861.5" cy="664.0" r="2.8"/><circle cx="865.8" cy="656.7" r="2.8"/><circle cx="846.4" cy="656.3" r="2.8"/><circle cx="852.6" cy="663.8" r="2.8"/><circle cx="840.0" cy="673.6" r="2.8"/><circle cx="848.8" cy="664.8" r="2.8"/><circle cx="845.6" cy="658.0" r="2.8"/><circle cx="883.5" cy="640.0" r="2.8"/><circle cx="866.6" cy="651.4" r="2.8"/><circle cx="856.1" cy="655.2" r="2.8"/><circle cx="848.6" cy="667.7" r="2.8"/><circle cx="882.2" cy="642.3" r="2.8"/><circle cx="855.4" cy="664.5" r="2.8"/><circle cx="844.8" cy="668.5" r="2.8"/><circle cx="842.2" cy="669.2" r="2.8"/><circle cx="862.6" cy="662.4" r="2.8"/><circle cx="856.6" cy="653.0" r="2.8"/><circle cx="861.5" cy="651.0" r="2.8"/><circle cx="868.2" cy="661.2" r="2.8"/><circle cx="861.6" cy="653.8" r="2.8"/><circle cx="872.4" cy="652.2" r="2.8"/><circle cx="833.0" cy="668.8" r="2.8"/><circle cx="875.0" cy="648.6" r="2.8"/><circle cx="854.5" cy="658.3" r="2.8"/><circle cx="825.8" cy="671.5" r="2.8"/><circle cx="859.3" cy="658.8" r="2.8"/><circle cx="846.3" cy="653.2" r="2.8"/><circle cx="874.0" cy="654.3" r="2.8"/><circle cx="872.0" cy="658.2" r="2.8"/><circle cx="845.1" cy="661.6" r="2.8"/><circle cx="861.6" cy="665.2" r="2.8"/><circle cx="826.3" cy="672.7" r="2.8"/><circle cx="843.2" cy="668.5" r="2.8"/><circle cx="875.7" cy="648.2" r="2.8"/><circle cx="833.9" cy="670.4" r="2.8"/><circle cx="845.7" cy="656.5" r="2.8"/><circle cx="866.2" cy="651.7" r="2.8"/><circle cx="861.4" cy="650.0" r="2.8"/><circle cx="867.6" cy="646.3" r="2.8"/><circle cx="866.2" cy="645.1" r="2.8"/><circle cx="874.2" cy="648.6" r="2.8"/><circle cx="828.4" cy="671.7" r="2.8"/><circle cx="856.6" cy="654.0" r="2.8"/><circle cx="846.1" cy="665.6" r="2.8"/><circle cx="847.4" cy="665.8" r="2.8"/><circle cx="860.0" cy="662.6" r="2.8"/><circle cx="866.5" cy="655.9" r="2.8"/><circle cx="872.3" cy="656.3" r="2.8"/><circle cx="853.7" cy="657.4" r="2.8"/><circle cx="870.3" cy="654.6" r="2.8"/><circle cx="821.3" cy="670.7" r="2.8"/><circle cx="860.9" cy="657.6" r="2.8"/><circle cx="859.0" cy="661.2" r="2.8"/><circle cx="858.8" cy="666.1" r="2.8"/><circle cx="843.2" cy="663.6" r="2.8"/><circle cx="859.9" cy="661.3" r="2.8"/><circle cx="868.7" cy="660.8" r="2.8"/><circle cx="848.2" cy="669.2" r="2.8"/><circle cx="858.6" cy="652.8" r="2.8"/><circle cx="855.3" cy="670.4" r="2.8"/><circle cx="864.7" cy="652.7" r="2.8"/><circle cx="814.1" cy="676.1" r="2.8"/><circle cx="842.4" cy="666.4" r="2.8"/><circle cx="891.1" cy="646.1" r="2.8"/><circle cx="856.3" cy="654.4" r="2.8"/><circle cx="834.2" cy="668.9" r="2.8"/><circle cx="845.7" cy="661.3" r="2.8"/><circle cx="871.2" cy="652.4" r="2.8"/><circle cx="836.5" cy="675.5" r="2.8"/><circle cx="845.7" cy="657.6" r="2.8"/><circle cx="859.3" cy="660.3" r="2.8"/><circle cx="849.4" cy="666.2" r="2.8"/><circle cx="864.4" cy="650.8" r="2.8"/><circle cx="816.1" cy="666.6" r="2.8"/><circle cx="853.8" cy="666.8" r="2.8"/><circle cx="871.9" cy="658.8" r="2.8"/><circle cx="882.5" cy="646.5" r="2.8"/><circle cx="866.8" cy="646.3" r="2.8"/><circle cx="864.9" cy="657.0" r="2.8"/><circle cx="850.9" cy="659.6" r="2.8"/><circle cx="836.0" cy="669.8" r="2.8"/><circle cx="872.7" cy="649.4" r="2.8"/><circle cx="860.3" cy="653.9" r="2.8"/><circle cx="855.3" cy="654.6" r="2.8"/><circle cx="858.8" cy="656.9" r="2.8"/><circle cx="857.0" cy="655.8" r="2.8"/><circle cx="834.1" cy="668.4" r="2.8"/><circle cx="872.8" cy="659.3" r="2.8"/><circle cx="849.8" cy="666.5" r="2.8"/><circle cx="866.0" cy="656.5" r="2.8"/><circle cx="829.6" cy="673.9" r="2.8"/><circle cx="840.4" cy="673.0" r="2.8"/><circle cx="866.9" cy="657.2" r="2.8"/><circle cx="861.7" cy="650.0" r="2.8"/><circle cx="868.7" cy="653.6" r="2.8"/><circle cx="849.0" cy="659.2" r="2.8"/><circle cx="836.4" cy="666.7" r="2.8"/><circle cx="855.3" cy="656.4" r="2.8"/><circle cx="842.5" cy="663.2" r="2.8"/><circle cx="841.1" cy="671.1" r="2.8"/><circle cx="850.8" cy="666.4" r="2.8"/><circle cx="837.0" cy="673.4" r="2.8"/><circle cx="854.2" cy="663.7" r="2.8"/><circle cx="849.9" cy="657.8" r="2.8"/><circle cx="871.5" cy="649.6" r="2.8"/><circle cx="849.2" cy="658.2" r="2.8"/><circle cx="855.7" cy="657.5" r="2.8"/><circle cx="858.4" cy="660.0" r="2.8"/><circle cx="839.6" cy="660.2" r="2.8"/><circle cx="862.0" cy="661.2" r="2.8"/><circle cx="861.9" cy="650.6" r="2.8"/><circle cx="863.6" cy="657.6" r="2.8"/><circle cx="858.6" cy="660.3" r="2.8"/><circle cx="848.6" cy="664.1" r="2.8"/><circle cx="866.9" cy="651.5" r="2.8"/><circle cx="830.4" cy="671.3" r="2.8"/><circle cx="852.7" cy="651.6" r="2.8"/><circle cx="843.8" cy="668.3" r="2.8"/><circle cx="851.1" cy="662.2" r="2.8"/><circle cx="835.3" cy="674.1" r="2.8"/><circle cx="880.5" cy="646.4" r="2.8"/><circle cx="839.4" cy="661.5" r="2.8"/><circle cx="867.5" cy="654.3" r="2.8"/><circle cx="843.3" cy="671.8" r="2.8"/><circle cx="866.5" cy="657.3" r="2.8"/><circle cx="825.4" cy="673.8" r="2.8"/><circle cx="860.7" cy="650.8" r="2.8"/><circle cx="870.8" cy="659.5" r="2.8"/><circle cx="868.1" cy="649.8" r="2.8"/><circle cx="844.1" cy="670.0" r="2.8"/><circle cx="871.4" cy="658.2" r="2.8"/><circle cx="872.0" cy="651.1" r="2.8"/><circle cx="843.1" cy="656.2" r="2.8"/><circle cx="870.2" cy="664.1" r="2.8"/><circle cx="845.1" cy="662.3" r="2.8"/><circle cx="864.3" cy="657.3" r="2.8"/><circle cx="830.3" cy="668.3" r="2.8"/><circle cx="840.1" cy="677.5" r="2.8"/><circle cx="843.7" cy="669.7" r="2.8"/><circle cx="887.3" cy="653.8" r="2.8"/><circle cx="879.0" cy="656.5" r="2.8"/><circle cx="833.2" cy="668.7" r="2.8"/><circle cx="841.3" cy="665.1" r="2.8"/><circle cx="859.6" cy="651.3" r="2.8"/><circle cx="877.0" cy="655.8" r="2.8"/><circle cx="849.4" cy="673.2" r="2.8"/><circle cx="857.1" cy="665.5" r="2.8"/><circle cx="857.1" cy="656.0" r="2.8"/><circle cx="847.1" cy="663.1" r="2.8"/><circle cx="863.3" cy="656.5" r="2.8"/><circle cx="890.0" cy="641.8" r="2.8"/><circle cx="844.5" cy="661.3" r="2.8"/><circle cx="838.2" cy="660.7" r="2.8"/><circle cx="839.6" cy="672.0" r="2.8"/><circle cx="853.9" cy="659.5" r="2.8"/><circle cx="861.0" cy="662.4" r="2.8"/><circle cx="864.5" cy="659.2" r="2.8"/><circle cx="844.0" cy="663.9" r="2.8"/><circle cx="840.9" cy="666.3" r="2.8"/><circle cx="839.7" cy="665.4" r="2.8"/><circle cx="850.1" cy="661.1" r="2.8"/><circle cx="848.1" cy="660.7" r="2.8"/><circle cx="873.2" cy="649.2" r="2.8"/><circle cx="837.8" cy="669.3" r="2.8"/><circle cx="834.0" cy="664.6" r="2.8"/><circle cx="851.3" cy="653.2" r="2.8"/><circle cx="866.2" cy="645.9" r="2.8"/><circle cx="840.4" cy="670.0" r="2.8"/><circle cx="820.3" cy="672.3" r="2.8"/><circle cx="834.0" cy="669.1" r="2.8"/><circle cx="824.1" cy="679.5" r="2.8"/><circle cx="851.6" cy="663.1" r="2.8"/><circle cx="843.9" cy="654.4" r="2.8"/><circle cx="848.2" cy="656.3" r="2.8"/><circle cx="851.7" cy="657.1" r="2.8"/><circle cx="847.9" cy="662.3" r="2.8"/><circle cx="867.0" cy="657.9" r="2.8"/><circle cx="837.5" cy="668.3" r="2.8"/><circle cx="877.3" cy="651.5" r="2.8"/><circle cx="841.6" cy="665.8" r="2.8"/><circle cx="849.7" cy="667.3" r="2.8"/><circle cx="854.6" cy="662.0" r="2.8"/><circle cx="885.3" cy="638.0" r="2.8"/><circle cx="833.9" cy="661.3" r="2.8"/><circle cx="830.0" cy="676.5" r="2.8"/><circle cx="861.2" cy="665.2" r="2.8"/><circle cx="820.5" cy="672.2" r="2.8"/><circle cx="878.1" cy="653.9" r="2.8"/><circle cx="869.0" cy="657.5" r="2.8"/><circle cx="853.8" cy="660.4" r="2.8"/><circle cx="855.5" cy="663.9" r="2.8"/><circle cx="851.4" cy="663.3" r="2.8"/><circle cx="873.9" cy="644.9" r="2.8"/><circle cx="842.6" cy="668.8" r="2.8"/><circle cx="848.8" cy="662.1" r="2.8"/><circle cx="887.1" cy="646.3" r="2.8"/><circle cx="848.9" cy="668.4" r="2.8"/><circle cx="843.0" cy="666.3" r="2.8"/><circle cx="847.7" cy="674.6" r="2.8"/><circle cx="860.8" cy="655.0" r="2.8"/><circle cx="859.4" cy="653.6" r="2.8"/><circle cx="844.0" cy="665.8" r="2.8"/><circle cx="886.3" cy="633.1" r="2.8"/><circle cx="862.6" cy="663.1" r="2.8"/><circle cx="868.8" cy="663.0" r="2.8"/><circle cx="860.7" cy="657.8" r="2.8"/><circle cx="849.5" cy="658.2" r="2.8"/><circle cx="876.6" cy="643.3" r="2.8"/><circle cx="850.3" cy="659.5" r="2.8"/><circle cx="836.5" cy="657.5" r="2.8"/><circle cx="847.6" cy="664.2" r="2.8"/><circle cx="857.3" cy="663.1" r="2.8"/><circle cx="849.5" cy="659.3" r="2.8"/><circle cx="859.5" cy="661.1" r="2.8"/><circle cx="836.0" cy="661.4" r="2.8"/><circle cx="839.3" cy="672.9" r="2.8"/><circle cx="867.2" cy="649.4" r="2.8"/><circle cx="856.7" cy="663.3" r="2.8"/><circle cx="872.9" cy="647.8" r="2.8"/><circle cx="852.4" cy="668.4" r="2.8"/><circle cx="894.3" cy="648.5" r="2.8"/><circle cx="836.3" cy="671.3" r="2.8"/><circle cx="848.5" cy="662.8" r="2.8"/><circle cx="795.5" cy="687.4" r="2.8"/><circle cx="806.4" cy="682.2" r="2.8"/><circle cx="827.9" cy="687.9" r="2.8"/><circle cx="914.0" cy="629.7" r="2.8"/><circle cx="904.3" cy="633.5" r="2.8"/><circle cx="899.7" cy="646.0" r="2.8"/><circle cx="894.0" cy="632.5" r="2.8"/><circle cx="886.5" cy="633.6" r="2.8"/><circle cx="880.5" cy="633.0" r="2.8"/></g>
<g stroke="#4fe085" stroke-width="1.8" stroke-linecap="round" fill="none"><path d="M761.8,704.0 L769.0,711.2 M761.8,711.2 L769.0,704.0"/><path d="M800.5,694.7 L807.7,701.9 M800.5,701.9 L807.7,694.7"/><path d="M907.9,611.8 L915.1,619.0 M907.9,619.0 L915.1,611.8"/><path d="M943.0,603.2 L950.2,610.4 M943.0,610.4 L950.2,603.2"/><path d="M939.6,619.5 L946.8,626.7 M939.6,626.7 L946.8,619.5"/></g>
<g fill="url(#gHistP)" fill-opacity=".94"><rect x="103.8" y="952.6" width="19" height="3.7"/><rect x="124.3" y="932.0" width="19" height="24.3"/><rect x="144.8" y="890.0" width="19" height="66.3"/><rect x="165.0" y="836.8" width="19" height="119.5"/><rect x="185.3" y="856.8" width="19" height="99.5"/><rect x="205.8" y="877.3" width="19" height="79.0"/><rect x="226.0" y="897.5" width="19" height="58.8"/><rect x="246.3" y="914.0" width="19" height="42.3"/><rect x="266.5" y="930.3" width="19" height="26.0"/><rect x="287.0" y="940.8" width="19" height="15.5"/><rect x="307.3" y="949.5" width="19" height="6.8"/><rect x="327.8" y="953.8" width="19" height="2.5"/><rect x="348.0" y="955.2" width="19" height="1.1"/></g>
<path d="M71.00,955.60 C73.83,955.43 83.17,955.12 88.00,954.60 C92.83,954.08 95.92,954.10 100.00,952.50 C104.08,950.90 108.33,948.75 112.50,945.00 C116.67,941.25 120.83,936.67 125.00,930.00 C129.17,923.33 133.33,913.62 137.50,905.00 C141.67,896.38 145.83,886.25 150.00,878.30 C154.17,870.35 158.33,862.58 162.50,857.30 C166.67,852.02 171.25,848.73 175.00,846.60 C178.75,844.47 181.67,844.37 185.00,844.50 C188.33,844.63 191.67,845.58 195.00,847.40 C198.33,849.22 200.00,850.50 205.00,855.40 C210.00,860.30 218.33,869.98 225.00,876.80 C231.67,883.62 238.33,890.35 245.00,896.30 C251.67,902.25 258.33,907.38 265.00,912.50 C271.67,917.62 278.33,922.50 285.00,927.00 C291.67,931.50 298.00,936.25 305.00,939.50 C312.00,942.75 319.50,944.67 327.00,946.50 C334.50,948.33 341.17,949.33 350.00,950.50 C358.83,951.67 368.33,952.72 380.00,953.50 C391.67,954.28 402.08,954.82 420.00,955.20 C437.92,955.58 476.25,955.70 487.50,955.80" stroke="#ad72e6" stroke-width="2.6" fill="none" stroke-linecap="round" opacity=".97"/>
<path d="M71.0,956.30 L73.5,956.30 L76.0,956.29 L78.5,956.29 L81.0,956.29 L83.5,956.29 L86.0,956.29 L88.5,956.28 L91.0,956.28 L93.5,956.28 L96.0,956.27 L98.5,956.26 L101.0,956.26 L103.5,956.25 L106.0,956.24 L108.5,956.22 L111.0,956.21 L113.5,956.19 L116.0,956.17 L118.5,956.15 L121.0,956.12 L123.5,956.08 L126.0,956.05 L128.5,956.00 L131.0,955.95 L133.5,955.88 L136.0,955.81 L138.5,955.73 L141.0,955.64 L143.5,955.53 L146.0,955.40 L148.5,955.26 L151.0,955.10 L153.5,954.92 L156.0,954.71 L158.5,954.47 L161.0,954.21 L163.5,953.91 L166.0,953.58 L168.5,953.20 L171.0,952.78 L173.5,952.32 L176.0,951.80 L178.5,951.23 L181.0,950.60 L183.5,949.90 L186.0,949.13 L188.5,948.29 L191.0,947.38 L193.5,946.38 L196.0,945.29 L198.5,944.11 L201.0,942.84 L203.5,941.47 L206.0,939.99 L208.5,938.41 L211.0,936.72 L213.5,934.92 L216.0,933.00 L218.5,930.98 L221.0,928.83 L223.5,926.58 L226.0,924.21 L228.5,921.73 L231.0,919.14 L233.5,916.45 L236.0,913.66 L238.5,910.78 L241.0,907.82 L243.5,904.78 L246.0,901.67 L248.5,898.51 L251.0,895.30 L253.5,892.06 L256.0,888.81 L258.5,885.54 L261.0,882.29 L263.5,879.06 L266.0,875.88 L268.5,872.75 L271.0,869.70 L273.5,866.74 L276.0,863.89 L278.5,861.16 L281.0,858.58 L283.5,856.15 L286.0,853.90 L288.5,851.83 L291.0,849.96 L293.5,848.30 L296.0,846.87 L298.5,845.67 L301.0,844.70 L303.5,843.99 L306.0,843.52 L308.5,843.31 L311.0,843.36 L313.5,843.69 L316.0,844.29 L318.5,845.16 L321.0,846.29 L323.5,847.68 L326.0,849.31 L328.5,851.18 L331.0,853.27 L333.5,855.56 L336.0,858.04 L338.5,860.70 L341.0,863.51 L343.5,866.46 L346.0,869.53 L348.5,872.69 L351.0,875.94 L353.5,879.26 L356.0,882.61 L358.5,886.00 L361.0,889.39 L363.5,892.77 L366.0,896.14 L368.5,899.46 L371.0,902.73 L373.5,905.93 L376.0,909.06 L378.5,912.11 L381.0,915.06 L383.5,917.90 L386.0,920.64 L388.5,923.26 L391.0,925.77 L393.5,928.15 L396.0,930.42 L398.5,932.55 L401.0,934.57 L403.5,936.46 L406.0,938.23 L408.5,939.89 L411.0,941.43 L413.5,942.85 L416.0,944.17 L418.5,945.39 L421.0,946.51 L423.5,947.54 L426.0,948.48 L428.5,949.33 L431.0,950.11 L433.5,950.81 L436.0,951.44 L438.5,952.02 L441.0,952.53 L443.5,952.99 L446.0,953.40 L448.5,953.77 L451.0,954.09 L453.5,954.38 L456.0,954.64 L458.5,954.86 L461.0,955.06 L463.5,955.23 L466.0,955.38 L468.5,955.51 L471.0,955.63 L473.5,955.73 L476.0,955.81 L478.5,955.89 L481.0,955.95 L483.5,956.01 L486.0,956.05 L487.5,956.3 L71,956.3 Z" fill="url(#gHistG)"/>
<path d="M71.0,956.30 L73.5,956.30 L76.0,956.29 L78.5,956.29 L81.0,956.29 L83.5,956.29 L86.0,956.29 L88.5,956.28 L91.0,956.28 L93.5,956.28 L96.0,956.27 L98.5,956.26 L101.0,956.26 L103.5,956.25 L106.0,956.24 L108.5,956.22 L111.0,956.21 L113.5,956.19 L116.0,956.17 L118.5,956.15 L121.0,956.12 L123.5,956.08 L126.0,956.05 L128.5,956.00 L131.0,955.95 L133.5,955.88 L136.0,955.81 L138.5,955.73 L141.0,955.64 L143.5,955.53 L146.0,955.40 L148.5,955.26 L151.0,955.10 L153.5,954.92 L156.0,954.71 L158.5,954.47 L161.0,954.21 L163.5,953.91 L166.0,953.58 L168.5,953.20 L171.0,952.78 L173.5,952.32 L176.0,951.80 L178.5,951.23 L181.0,950.60 L183.5,949.90 L186.0,949.13 L188.5,948.29 L191.0,947.38 L193.5,946.38 L196.0,945.29 L198.5,944.11 L201.0,942.84 L203.5,941.47 L206.0,939.99 L208.5,938.41 L211.0,936.72 L213.5,934.92 L216.0,933.00 L218.5,930.98 L221.0,928.83 L223.5,926.58 L226.0,924.21 L228.5,921.73 L231.0,919.14 L233.5,916.45 L236.0,913.66 L238.5,910.78 L241.0,907.82 L243.5,904.78 L246.0,901.67 L248.5,898.51 L251.0,895.30 L253.5,892.06 L256.0,888.81 L258.5,885.54 L261.0,882.29 L263.5,879.06 L266.0,875.88 L268.5,872.75 L271.0,869.70 L273.5,866.74 L276.0,863.89 L278.5,861.16 L281.0,858.58 L283.5,856.15 L286.0,853.90 L288.5,851.83 L291.0,849.96 L293.5,848.30 L296.0,846.87 L298.5,845.67 L301.0,844.70 L303.5,843.99 L306.0,843.52 L308.5,843.31 L311.0,843.36 L313.5,843.69 L316.0,844.29 L318.5,845.16 L321.0,846.29 L323.5,847.68 L326.0,849.31 L328.5,851.18 L331.0,853.27 L333.5,855.56 L336.0,858.04 L338.5,860.70 L341.0,863.51 L343.5,866.46 L346.0,869.53 L348.5,872.69 L351.0,875.94 L353.5,879.26 L356.0,882.61 L358.5,886.00 L361.0,889.39 L363.5,892.77 L366.0,896.14 L368.5,899.46 L371.0,902.73 L373.5,905.93 L376.0,909.06 L378.5,912.11 L381.0,915.06 L383.5,917.90 L386.0,920.64 L388.5,923.26 L391.0,925.77 L393.5,928.15 L396.0,930.42 L398.5,932.55 L401.0,934.57 L403.5,936.46 L406.0,938.23 L408.5,939.89 L411.0,941.43 L413.5,942.85 L416.0,944.17 L418.5,945.39 L421.0,946.51 L423.5,947.54 L426.0,948.48 L428.5,949.33 L431.0,950.11 L433.5,950.81 L436.0,951.44 L438.5,952.02 L441.0,952.53 L443.5,952.99 L446.0,953.40 L448.5,953.77 L451.0,954.09 L453.5,954.38 L456.0,954.64 L458.5,954.86 L461.0,955.06 L463.5,955.23 L466.0,955.38 L468.5,955.51 L471.0,955.63 L473.5,955.73 L476.0,955.81 L478.5,955.89 L481.0,955.95 L483.5,956.01 L486.0,956.05" stroke="#58d48a" stroke-width="2.5" fill="none" stroke-linecap="round"/>
<path d="M71,832.5 V956.3" stroke="#52555a" stroke-width="1.7" fill="none"/>
<rect x="389.5" y="808.4" width="11.3" height="11.6" rx="2" fill="#9b55e0"/>
<rect x="443.8" y="808.4" width="11.3" height="11.6" rx="2" fill="#3fd475"/>
<path d="M550.8,832.5 V956.6 H954.5" stroke="#52555a" stroke-width="1.7" fill="none"/>
<path d="M551.3,945 L560.8,877.5 L571.3,948.8 L580,941.3 L589.5,873.8 L599.5,883.8 L617.5,935.5 L630,859.5 L639.5,888.8 L649,886.8 L657.5,848 L667.5,930.5 L677.5,876.3 L687,951.3 L695.5,892.5 L705,926.3 L714.5,839.5 L723.8,902.5 L731.3,924.3 L740.8,836.8 L755.5,930 L763.8,888.8 L771.8,925.8 L786.3,865 L801.8,903.3 L812,873.8 L821.3,913.8 L831.8,848.3 L840,860 L848,936.3 L862.5,860.8 L872.5,871.3 L881.8,938.3 L892.5,876.3 L902.5,874.3 L911.3,944.3 L920,915 L929.3,835.8 L938.8,894.3 L947,892 L951.3,874.5 L951.3,956 L551.3,956 Z" fill="url(#gTS)"/>
<path d="M551.3,945 L560.8,877.5 L571.3,948.8 L580,941.3 L589.5,873.8 L599.5,883.8 L617.5,935.5 L630,859.5 L639.5,888.8 L649,886.8 L657.5,848 L667.5,930.5 L677.5,876.3 L687,951.3 L695.5,892.5 L705,926.3 L714.5,839.5 L723.8,902.5 L731.3,924.3 L740.8,836.8 L755.5,930 L763.8,888.8 L771.8,925.8 L786.3,865 L801.8,903.3 L812,873.8 L821.3,913.8 L831.8,848.3 L840,860 L848,936.3 L862.5,860.8 L872.5,871.3 L881.8,938.3 L892.5,876.3 L902.5,874.3 L911.3,944.3 L920,915 L929.3,835.8 L938.8,894.3 L947,892 L951.3,874.5" stroke="#a862e6" stroke-width="2.3" fill="none" stroke-linejoin="round" stroke-linecap="round"/>
<path d="M551.30,902.00 C553.58,903.67 559.80,909.50 565.00,912.00 C570.20,914.50 576.67,917.12 582.50,917.00 C588.33,916.88 594.17,912.33 600.00,911.30 C605.83,910.27 612.50,911.63 617.50,910.80 C622.50,909.97 625.00,908.22 630.00,906.30 C635.00,904.38 640.42,900.52 647.50,899.30 C654.58,898.08 664.37,897.83 672.50,899.00 C680.63,900.17 687.97,907.08 696.30,906.30 C704.63,905.52 716.05,896.38 722.50,894.30 C728.95,892.22 730.00,894.63 735.00,893.80 C740.00,892.97 745.42,889.10 752.50,889.30 C759.58,889.50 767.92,894.97 777.50,895.00 C787.08,895.03 800.00,890.87 810.00,889.50 C820.00,888.13 830.00,886.38 837.50,886.80 C845.00,887.22 848.75,892.17 855.00,892.00 C861.25,891.83 868.33,886.97 875.00,885.80 C881.67,884.63 887.50,884.30 895.00,885.00 C902.50,885.70 912.50,889.70 920.00,890.00 C927.50,890.30 934.78,888.05 940.00,886.80 C945.22,885.55 949.42,883.22 951.30,882.50" stroke="#5cd394" stroke-width="2.5" fill="none" stroke-linecap="round"/>
<path d="M851.5,814.3 H863.5" stroke="#a75ee8" stroke-width="2.6" stroke-linecap="round"/>
<path d="M907.2,814.3 H918.6" stroke="#4fdc84" stroke-width="2.6" stroke-linecap="round"/>
<g transform="translate(512.15,383.8)" fill="none" stroke-linecap="round" stroke-linejoin="round"><path d="M-2.4,1.9 L-8.3,8.5" stroke="#c68cf8" stroke-width="4.3"/><path d="M-2.4,1.9 L-8.3,8.5" stroke="#5e2d94" stroke-width="2.0"/><path d="M-1.2,0.7 L3.4,-3.6" stroke="#c68cf8" stroke-width="1.2"/><path d="M3.6,-3.8 L8.9,-8.8" stroke="#c68cf8" stroke-width="3.0"/><path d="M3.6,-3.8 L8.9,-8.8" stroke="#5e2d94" stroke-width="0.9"/><path d="M-2.6,-2.8 L7.0,7.0" stroke="#c68cf8" stroke-width="4.0"/><path d="M-2.6,-2.8 L7.0,7.0" stroke="#5e2d94" stroke-width="1.7"/><circle cx="7.3" cy="7.6" r="2.5" fill="#5e2d94" stroke="#c68cf8" stroke-width="1.2"/><circle cx="7.5" cy="7.8" r="0.7" stroke="#c68cf8" stroke-width="1"/><path d="M-1.6,-3.4 C-0.6,-6.4 -2.6,-10.2 -6.6,-10.6 L-8.8,-10.4 L-6.0,-7.4 L-8.3,-5.2 L-11.0,-7.6 C-11.6,-4.4 -9.6,-0.8 -5.6,-0.4 L-3.6,-0.8 Z" fill="#5e2d94" stroke="#c68cf8" stroke-width="1.2"/></g>
<g transform="translate(512.1,492.9)" fill="none" stroke="#62e694" stroke-width="1.5" stroke-linecap="round" stroke-linejoin="round"><path d="M-11.0,6.1 H-9.6 Q-8.2,6.1 -8.2,4.6 V-5.4 Q-8.2,-7.3 -6.3,-7.3 H-2.4 Q-0.4,-7.3 -0.4,-5.2 V3.4 Q-0.4,7.2 3.4,7.2 H9.0"/><path d="M6.0,3.9 L9.6,7.2 L6.0,10.5"/><path d="M1.2,-6.3 Q4.6,-8.3 9.4,-8.2"/><path d="M6.0,-11.4 L10.0,-8.2 L6.4,-4.2"/></g>
<g transform="translate(511.9,600.0)" fill="#212328" stroke="#8f9297" stroke-width="1.3"><path d="M-8.7,-7.3 V7.2 A8.7,3.4 0 0 0 8.7,7.2 V-7.3"/><ellipse cx="0" cy="-7.3" rx="8.7" ry="3.4"/><path d="M-8.7,-2.5 A8.7,3.4 0 0 0 8.7,-2.5" fill="none"/><path d="M-8.7,2.3 A8.7,3.4 0 0 0 8.7,2.3" fill="none"/></g>
</svg>
<div class="labels">
<span class="t h1" style="font-size:42px;transform:translate(199.83px,44.45px) scaleX(0.9764);color:#ffffff;">ENTERPRISE</span>
<span class="t h1" style="font-size:42px;transform:translate(471.44px,44.45px) scaleX(1.0719);color:#ffffff;">DATA</span>
<span class="t h1" style="font-size:42px;transform:translate(600.18px,44.45px) scaleX(0.9973);color:#ffffff;">QUALITY</span>
<span class="t h1" style="font-size:42px;transform:translate(794.79px,44.45px) scaleX(0.9620);color:#ffffff;">&amp;</span>
<span class="t h1" style="font-size:42px;transform:translate(270.29px,88.45px) scaleX(0.9703);color:#ffffff;">ETL</span>
<span class="t h1" style="font-size:42px;transform:translate(357.75px,88.45px) scaleX(1.0113);color:#ffffff;">PIPELINE</span>
<span class="t h1" style="font-size:42px;transform:translate(561.65px,88.45px) scaleX(1.0305);color:#ffffff;">MONITOR</span>
<span class="t " style="font-size:17px;transform:translate(66.89px,171.61px) scaleX(0.8804);color:#fff;">BEFORE</span>
<span class="t " style="font-size:17px;transform:translate(133.46px,171.61px) scaleX(0.9473);color:#fff;">TRANSFORMATION</span>
<span class="t " style="font-size:17.3px;transform:translate(134.00px,193.36px) scaleX(0.9540);color:#d4d5d7;font-weight:400;">(Raw Data)</span>
<span class="t " style="font-size:15px;transform:translate(125.06px,233.30px) scaleX(0.8262);color:#fff;">QUALITY SCORE</span>
<span class="t " style="font-size:22px;transform:translate(156.49px,345.38px) scaleX(0.8842);color:#a662e2;">62%</span>
<span class="t " style="font-size:15.2px;transform:translate(82.16px,397.13px) scaleX(0.8359);color:#fff;">MISSING VALUES BY COLUMN</span>
<span class="t " style="font-size:12px;transform:translate(61.62px,415.84px) scaleX(0.8219);color:#dadbdd;font-weight:400;">100%</span>
<span class="t " style="font-size:12px;transform:translate(67.27px,442.84px) scaleX(0.8154);color:#dadbdd;font-weight:400;">75%</span>
<span class="t " style="font-size:12px;transform:translate(67.53px,469.84px) scaleX(0.8082);color:#dadbdd;font-weight:400;">50%</span>
<span class="t " style="font-size:12px;transform:translate(67.58px,496.84px) scaleX(0.8069);color:#dadbdd;font-weight:400;">25%</span>
<span class="t " style="font-size:12px;transform:translate(73.33px,523.84px) scaleX(0.7751);color:#dadbdd;font-weight:400;">0%</span>
<span class="t " style="font-size:12px;transform:translate(119.64px,534.84px) scaleX(0.8949);color:#dadbdd;font-weight:400;">ID</span>
<span class="t " style="font-size:12px;transform:translate(177.59px,534.84px) scaleX(0.8787);color:#dadbdd;font-weight:400;">Date</span>
<span class="t " style="font-size:12px;transform:translate(233.67px,534.84px) scaleX(0.8827);color:#dadbdd;font-weight:400;">Amount</span>
<span class="t " style="font-size:15.2px;transform:translate(68.98px,577.13px) scaleX(0.8205);color:#fff;">OUTLIER DETECTION</span>
<span class="t " style="font-size:15.6px;transform:translate(202.19px,576.79px) scaleX(0.8863);color:#d4d5d7;font-weight:400;">(Scatter Plot)</span>
<span class="t " style="font-size:17px;transform:translate(744.04px,171.61px) scaleX(0.9297);color:#fff;">AFTER</span>
<span class="t " style="font-size:17px;transform:translate(801.36px,171.61px) scaleX(0.9402);color:#fff;">TRANSFORMATION</span>
<span class="t " style="font-size:17.3px;transform:translate(801.00px,193.36px) scaleX(0.9629);color:#d4d5d7;font-weight:400;">(Clean Data)</span>
<span class="t " style="font-size:15px;transform:translate(797.22px,233.30px) scaleX(0.8286);color:#fff;">QUALITY SCORE</span>
<span class="t " style="font-size:22px;transform:translate(828.47px,345.38px) scaleX(0.8860);color:#55d07e;">98%</span>
<span class="t " style="font-size:15.2px;transform:translate(758.40px,397.13px) scaleX(0.8465);color:#fff;">MISSING VALUES (IMPUTED)</span>
<span class="t " style="font-size:12px;transform:translate(741.98px,415.84px) scaleX(0.7741);color:#dadbdd;font-weight:400;">0%</span>
<span class="t " style="font-size:12px;transform:translate(741.98px,442.84px) scaleX(0.7741);color:#dadbdd;font-weight:400;">0%</span>
<span class="t " style="font-size:12px;transform:translate(741.98px,469.84px) scaleX(0.7741);color:#dadbdd;font-weight:400;">0%</span>
<span class="t " style="font-size:12px;transform:translate(741.98px,496.84px) scaleX(0.7741);color:#dadbdd;font-weight:400;">0%</span>
<span class="t " style="font-size:12px;transform:translate(741.85px,523.84px) scaleX(0.7812);color:#dadbdd;font-weight:400;">0%</span>
<span class="t " style="font-size:12px;transform:translate(788.10px,534.84px) scaleX(0.9124);color:#dadbdd;font-weight:400;">ID</span>
<span class="t " style="font-size:12px;transform:translate(846.96px,534.84px) scaleX(0.8842);color:#dadbdd;font-weight:400;">Date</span>
<span class="t " style="font-size:12px;transform:translate(904.35px,534.84px) scaleX(0.8963);color:#dadbdd;font-weight:400;">Amount</span>
<span class="t " style="font-size:15.2px;transform:translate(741.15px,577.13px) scaleX(0.8207);color:#fff;">OUTLIER DETECTION</span>
<span class="t " style="font-size:15.6px;transform:translate(874.13px,576.79px) scaleX(0.8905);color:#d4d5d7;font-weight:400;">(Scatter Plot)</span>
<span class="t " style="font-size:16.4px;transform:translate(443.93px,198.12px) scaleX(0.8503);color:#fff;">RAW DATA SOURCE</span>
<span class="t " style="font-size:16.4px;transform:translate(477.81px,216.12px) scaleX(0.9004);color:#d4d5d7;font-weight:400;">(CSV/API)</span>
<span class="t " style="font-size:16.4px;transform:translate(451.57px,289.12px) scaleX(0.8779);color:#fff;">DATA INGESTION</span>
<span class="t " style="font-size:16.4px;transform:translate(473.30px,307.12px) scaleX(0.8673);color:#fff;">&amp; STAGING</span>
<span class="t " style="font-size:16.4px;transform:translate(423.63px,415.12px) scaleX(0.8647);color:#fff;">CLEANING &amp; VALIDATION</span>
<span class="t " style="font-size:16.4px;transform:translate(425.35px,524.12px) scaleX(0.8702);color:#fff;">TRANSFORMATION</span>
<span class="t " style="font-size:16.4px;transform:translate(562.82px,524.12px) scaleX(0.8805);color:#d4d5d7;font-weight:400;">(ETL)</span>
<span class="t " style="font-size:16.4px;transform:translate(434.06px,624.12px) scaleX(0.8447);color:#fff;">TRUSTED DATA STORE</span>
<span class="t " style="font-size:16.4px;transform:translate(476.01px,641.12px) scaleX(0.9225);color:#d4d5d7;font-weight:400;">(DW/Lake)</span>
<span class="t " style="font-size:12px;transform:translate(328.87px,695.84px) scaleX(0.7339);color:#e4e5e6;">DUPLICATES REMOVED:</span>
<span class="t " style="font-size:12px;transform:translate(469.35px,695.84px) scaleX(0.7186);color:#e4e5e6;">ROWS PROCESSED:</span>
<span class="t " style="font-size:12px;transform:translate(595.80px,695.84px) scaleX(0.7569);color:#e4e5e6;">DATA CONSISTENCY:</span>
<span class="t " style="font-size:20px;transform:translate(353.83px,712.07px) scaleX(0.9059);color:#55d07e;">14,500</span>
<span class="t " style="font-size:20px;transform:translate(492.31px,712.07px) scaleX(0.9217);color:#ffffff;">1.2M</span>
<span class="t " style="font-size:20px;transform:translate(617.89px,712.07px) scaleX(0.8612);color:#55d07e;">99.5%</span>
<span class="t " style="font-size:17px;transform:translate(346.14px,768.61px) scaleX(0.9445);color:#fff;">STATISTICAL VISUALIZATIONS &amp; METRICS</span>
<span class="t " style="font-size:15.2px;transform:translate(64.06px,807.13px) scaleX(0.8451);color:#fff;">DISTRIBUTION</span>
<span class="t " style="font-size:15.6px;transform:translate(158.00px,806.79px) scaleX(0.9035);color:#d4d5d7;font-weight:400;">(Histogram)</span>
<span class="t " style="font-size:13.4px;transform:translate(405.58px,807.66px) scaleX(0.7724);color:#e4e5e7;font-weight:400;">RAW</span>
<span class="t " style="font-size:13.4px;transform:translate(459.98px,807.66px) scaleX(0.8129);color:#e4e5e7;font-weight:400;">CLEAN</span>
<span class="t " style="font-size:15.2px;transform:translate(529.12px,807.13px) scaleX(0.8158);color:#fff;">TIME SERIES TREND</span>
<span class="t " style="font-size:15.6px;transform:translate(656.71px,806.79px) scaleX(0.8695);color:#d4d5d7;font-weight:400;">(Line Chart)</span>
<span class="t " style="font-size:13.4px;transform:translate(868.46px,807.66px) scaleX(0.7729);color:#e4e5e7;font-weight:400;">RAW</span>
<span class="t " style="font-size:13.4px;transform:translate(924.07px,807.66px) scaleX(0.7935);color:#e4e5e7;font-weight:400;">CLEAN</span>
<span class="t " style="font-size:12px;transform:translate(527.84px,829.84px) scaleX(0.8924);color:#dadbdd;font-weight:400;">120</span>
<span class="t " style="font-size:12px;transform:translate(527.84px,849.84px) scaleX(0.8924);color:#dadbdd;font-weight:400;">100</span>
<span class="t " style="font-size:12px;transform:translate(533.81px,869.84px) scaleX(0.8749);color:#dadbdd;font-weight:400;">80</span>
<span class="t " style="font-size:12px;transform:translate(533.75px,889.84px) scaleX(0.8802);color:#dadbdd;font-weight:400;">60</span>
<span class="t " style="font-size:12px;transform:translate(534.30px,909.84px) scaleX(0.8351);color:#dadbdd;font-weight:400;">40</span>
<span class="t " style="font-size:12px;transform:translate(533.58px,930.84px) scaleX(0.9113);color:#dadbdd;font-weight:400;">20</span>
<span class="t " style="font-size:12px;transform:translate(539.28px,950.84px) scaleX(0.9504);color:#dadbdd;font-weight:400;">0</span>
</div>
</main>
</body>
</html>
